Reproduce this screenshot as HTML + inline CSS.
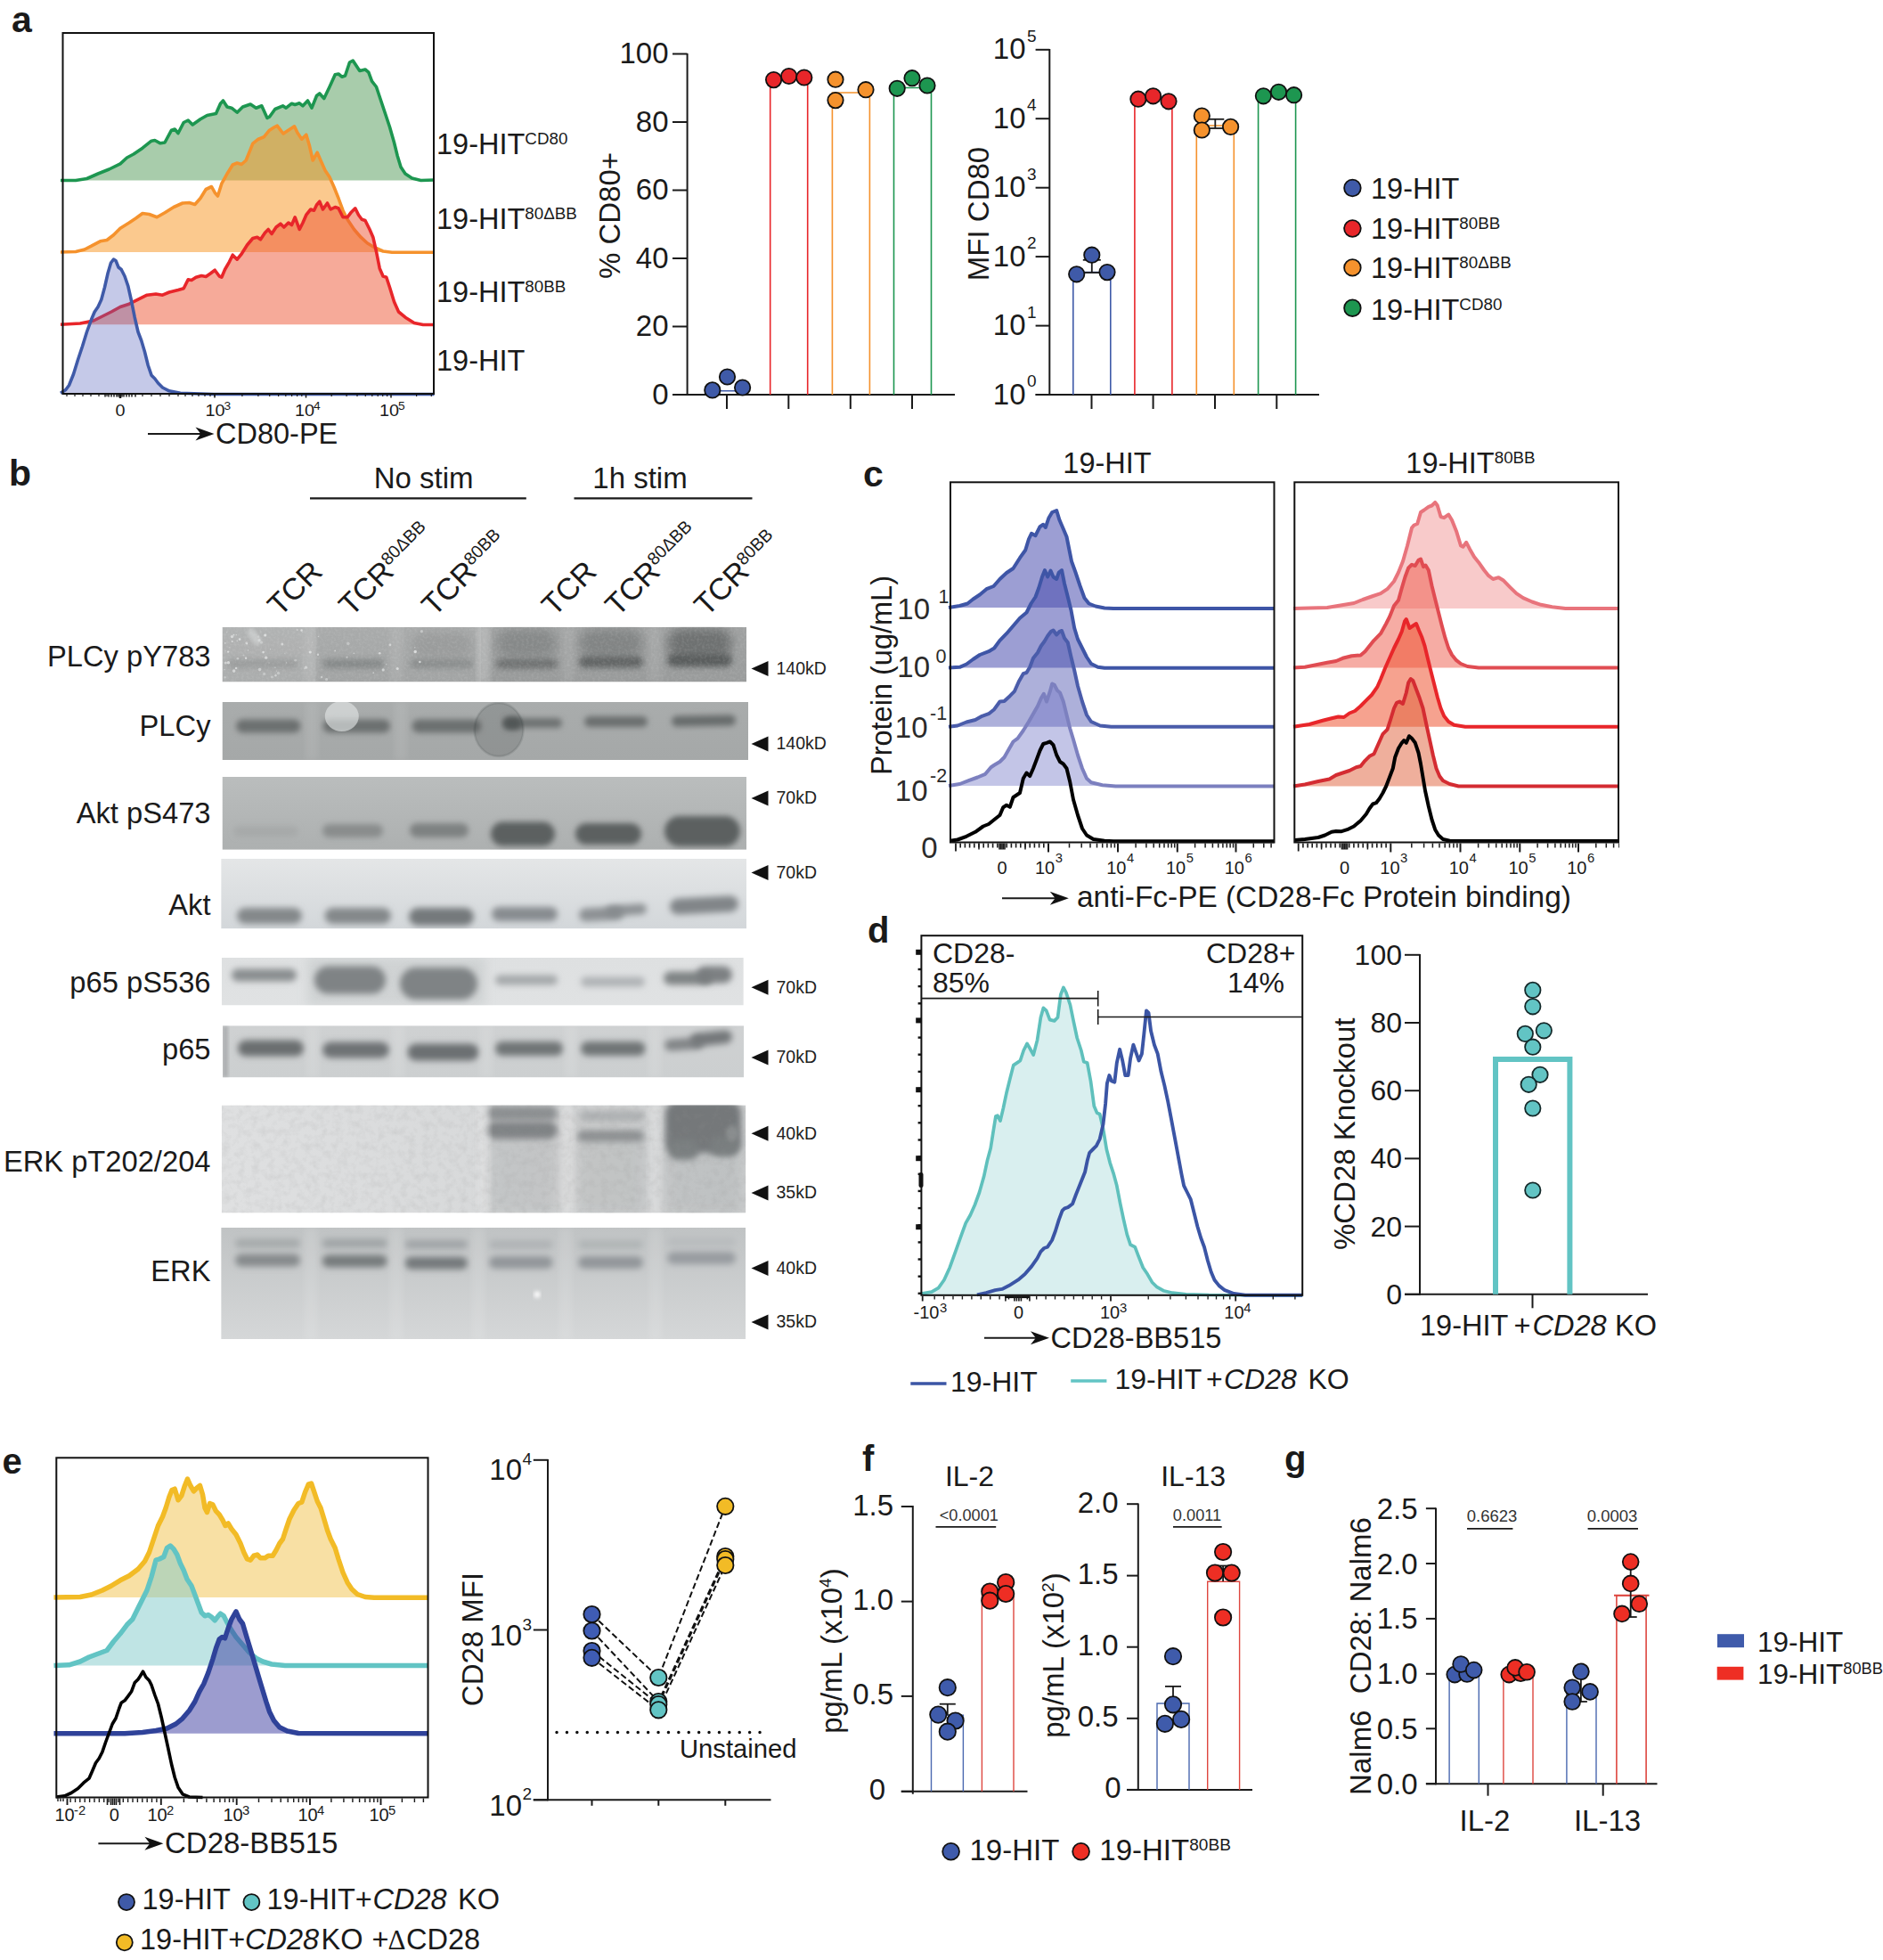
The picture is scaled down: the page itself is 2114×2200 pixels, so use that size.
<!DOCTYPE html>
<html><head><meta charset="utf-8"><title>Figure</title>
<style>html,body{margin:0;padding:0;background:#fff}body{width:2114px;height:2200px;overflow:hidden;font-family:"Liberation Sans", Arial, Helvetica, sans-serif}</style>
</head><body>
<svg width="2114" height="2200" viewBox="0 0 2114 2200" font-family='"Liberation Sans", Arial, Helvetica, sans-serif' style="display:block">
<rect x="0" y="0" width="2114" height="2200" fill="#fff" stroke="none" stroke-width="0"/>
<text x="13" y="35.5" font-size="41" font-weight="bold" fill="#1a1a1a">a</text>
<path d="M68.0,202.5 L85.0,202.5 L97.5,200.5 L110.0,195.0 L122.5,190.0 L135.0,183.8 L142.5,177.0 L150.0,173.0 L160.0,166.2 L170.0,158.2 L173.8,157.5 L180.0,160.8 L185.0,160.0 L192.5,146.2 L196.2,145.0 L200.0,149.5 L206.2,137.5 L211.2,135.0 L216.2,140.0 L225.0,133.8 L232.5,129.5 L242.5,127.5 L247.5,116.2 L250.5,113.0 L255.0,120.0 L260.0,121.2 L266.2,126.2 L272.5,120.0 L281.2,117.0 L287.5,121.2 L293.8,118.8 L300.0,132.5 L302.5,131.2 L308.8,122.5 L317.5,118.8 L321.2,121.2 L327.5,116.2 L331.2,117.5 L336.2,115.8 L340.0,118.8 L345.5,113.0 L350.0,121.2 L355.5,107.5 L358.8,105.0 L363.8,110.5 L370.0,97.5 L376.2,83.8 L380.0,83.0 L383.8,86.2 L387.5,85.0 L392.5,70.0 L396.2,68.0 L400.0,73.8 L403.8,79.5 L410.0,78.0 L413.8,81.2 L417.5,91.2 L422.5,97.5 L427.5,112.5 L432.5,127.5 L437.5,142.5 L442.5,160.0 L446.2,175.0 L450.0,187.5 L455.0,195.0 L462.5,200.0 L472.5,202.5 L487.5,202.0 L487.5,202.5 L68.0,202.5 Z" fill="#3f8f45" fill-opacity="0.45" stroke="none"/>
<path d="M68.0,202.5 L85.0,202.5 L97.5,200.5 L110.0,195.0 L122.5,190.0 L135.0,183.8 L142.5,177.0 L150.0,173.0 L160.0,166.2 L170.0,158.2 L173.8,157.5 L180.0,160.8 L185.0,160.0 L192.5,146.2 L196.2,145.0 L200.0,149.5 L206.2,137.5 L211.2,135.0 L216.2,140.0 L225.0,133.8 L232.5,129.5 L242.5,127.5 L247.5,116.2 L250.5,113.0 L255.0,120.0 L260.0,121.2 L266.2,126.2 L272.5,120.0 L281.2,117.0 L287.5,121.2 L293.8,118.8 L300.0,132.5 L302.5,131.2 L308.8,122.5 L317.5,118.8 L321.2,121.2 L327.5,116.2 L331.2,117.5 L336.2,115.8 L340.0,118.8 L345.5,113.0 L350.0,121.2 L355.5,107.5 L358.8,105.0 L363.8,110.5 L370.0,97.5 L376.2,83.8 L380.0,83.0 L383.8,86.2 L387.5,85.0 L392.5,70.0 L396.2,68.0 L400.0,73.8 L403.8,79.5 L410.0,78.0 L413.8,81.2 L417.5,91.2 L422.5,97.5 L427.5,112.5 L432.5,127.5 L437.5,142.5 L442.5,160.0 L446.2,175.0 L450.0,187.5 L455.0,195.0 L462.5,200.0 L472.5,202.5 L487.5,202.0" fill="none" stroke="#1d9650" stroke-width="3.6" stroke-linejoin="round" stroke-linecap="butt"/>
<path d="M68.0,283.0 L85.0,282.5 L95.0,280.0 L102.5,276.2 L112.5,270.8 L120.0,269.5 L127.5,263.8 L135.0,256.2 L145.0,250.0 L152.5,245.0 L160.0,239.5 L167.5,240.5 L176.2,243.8 L185.0,238.8 L195.0,232.5 L205.0,228.0 L212.5,227.5 L218.8,229.5 L225.0,222.5 L231.2,212.5 L237.5,209.5 L241.2,216.2 L244.5,220.0 L248.8,206.2 L255.0,195.0 L261.2,185.0 L266.2,183.0 L271.2,184.5 L276.2,180.0 L283.8,161.2 L290.0,156.2 L296.2,153.8 L302.5,146.2 L307.5,143.0 L311.2,141.2 L315.0,146.2 L318.0,150.0 L322.5,147.0 L327.5,143.8 L330.5,141.8 L333.8,148.8 L338.8,156.2 L343.8,151.2 L347.5,163.8 L351.2,180.0 L356.2,171.2 L360.0,180.0 L365.0,191.2 L370.0,198.8 L375.0,210.0 L380.0,222.5 L385.0,236.2 L390.0,246.2 L397.5,257.5 L405.0,266.2 L412.5,273.0 L420.0,277.5 L430.0,282.0 L440.0,283.2 L487.5,283.2 L487.5,283.0 L68.0,283.0 Z" fill="#f7941d" fill-opacity="0.5" stroke="none"/>
<path d="M68.0,283.0 L85.0,282.5 L95.0,280.0 L102.5,276.2 L112.5,270.8 L120.0,269.5 L127.5,263.8 L135.0,256.2 L145.0,250.0 L152.5,245.0 L160.0,239.5 L167.5,240.5 L176.2,243.8 L185.0,238.8 L195.0,232.5 L205.0,228.0 L212.5,227.5 L218.8,229.5 L225.0,222.5 L231.2,212.5 L237.5,209.5 L241.2,216.2 L244.5,220.0 L248.8,206.2 L255.0,195.0 L261.2,185.0 L266.2,183.0 L271.2,184.5 L276.2,180.0 L283.8,161.2 L290.0,156.2 L296.2,153.8 L302.5,146.2 L307.5,143.0 L311.2,141.2 L315.0,146.2 L318.0,150.0 L322.5,147.0 L327.5,143.8 L330.5,141.8 L333.8,148.8 L338.8,156.2 L343.8,151.2 L347.5,163.8 L351.2,180.0 L356.2,171.2 L360.0,180.0 L365.0,191.2 L370.0,198.8 L375.0,210.0 L380.0,222.5 L385.0,236.2 L390.0,246.2 L397.5,257.5 L405.0,266.2 L412.5,273.0 L420.0,277.5 L430.0,282.0 L440.0,283.2 L487.5,283.2" fill="none" stroke="#f5922d" stroke-width="3.6" stroke-linejoin="round" stroke-linecap="butt"/>
<path d="M68.0,364.2 L90.0,363.0 L105.0,360.0 L115.0,355.0 L125.0,350.0 L135.0,344.5 L145.0,341.2 L155.0,336.2 L165.0,331.2 L175.0,330.0 L182.5,331.2 L190.0,328.0 L200.0,325.5 L206.2,323.8 L211.2,313.8 L215.0,314.5 L220.0,311.2 L226.2,309.5 L231.2,310.5 L236.2,307.0 L241.2,303.2 L246.2,310.0 L248.8,311.2 L252.5,302.5 L257.5,293.8 L261.2,286.2 L266.2,291.2 L271.2,285.0 L277.5,275.0 L283.8,267.5 L288.8,266.2 L292.5,268.8 L297.5,261.2 L301.2,257.5 L305.0,262.5 L310.0,255.0 L315.0,251.2 L318.8,255.0 L323.8,250.0 L327.5,252.5 L331.2,243.8 L336.2,257.5 L340.0,250.0 L343.8,241.2 L348.8,235.0 L352.5,236.2 L355.5,230.0 L358.8,226.2 L362.5,235.0 L367.5,228.0 L371.2,235.0 L376.2,232.5 L380.0,233.8 L385.0,243.8 L390.0,243.8 L393.8,238.8 L398.8,233.8 L402.5,241.2 L406.2,246.2 L410.0,247.5 L415.0,257.5 L418.8,266.2 L422.5,282.5 L426.2,301.2 L430.0,310.0 L433.8,311.2 L437.5,322.5 L442.5,338.8 L447.5,350.0 L455.0,356.2 L465.0,362.5 L475.0,364.5 L487.5,364.5 L487.5,364.2 L68.0,364.2 Z" fill="#ee5533" fill-opacity="0.5" stroke="none"/>
<path d="M68.0,364.2 L90.0,363.0 L105.0,360.0 L115.0,355.0 L125.0,350.0 L135.0,344.5 L145.0,341.2 L155.0,336.2 L165.0,331.2 L175.0,330.0 L182.5,331.2 L190.0,328.0 L200.0,325.5 L206.2,323.8 L211.2,313.8 L215.0,314.5 L220.0,311.2 L226.2,309.5 L231.2,310.5 L236.2,307.0 L241.2,303.2 L246.2,310.0 L248.8,311.2 L252.5,302.5 L257.5,293.8 L261.2,286.2 L266.2,291.2 L271.2,285.0 L277.5,275.0 L283.8,267.5 L288.8,266.2 L292.5,268.8 L297.5,261.2 L301.2,257.5 L305.0,262.5 L310.0,255.0 L315.0,251.2 L318.8,255.0 L323.8,250.0 L327.5,252.5 L331.2,243.8 L336.2,257.5 L340.0,250.0 L343.8,241.2 L348.8,235.0 L352.5,236.2 L355.5,230.0 L358.8,226.2 L362.5,235.0 L367.5,228.0 L371.2,235.0 L376.2,232.5 L380.0,233.8 L385.0,243.8 L390.0,243.8 L393.8,238.8 L398.8,233.8 L402.5,241.2 L406.2,246.2 L410.0,247.5 L415.0,257.5 L418.8,266.2 L422.5,282.5 L426.2,301.2 L430.0,310.0 L433.8,311.2 L437.5,322.5 L442.5,338.8 L447.5,350.0 L455.0,356.2 L465.0,362.5 L475.0,364.5 L487.5,364.5" fill="none" stroke="#e8262a" stroke-width="3.6" stroke-linejoin="round" stroke-linecap="butt"/>
<path d="M68.0,441.2 L73.8,437.5 L77.5,432.5 L82.5,420.0 L87.5,403.8 L92.5,388.8 L97.5,372.5 L102.5,358.8 L106.2,350.0 L110.0,344.5 L113.8,336.2 L117.5,322.5 L121.2,306.2 L124.5,295.0 L127.5,291.2 L130.0,292.5 L133.0,300.0 L136.2,302.5 L140.0,310.0 L143.8,321.2 L147.5,337.5 L151.2,356.2 L155.0,372.5 L158.8,382.5 L162.5,395.0 L166.2,410.0 L170.0,421.2 L173.8,425.0 L177.5,430.0 L182.5,435.0 L190.0,438.8 L202.5,441.2 L240.0,442.5 L487.5,442.5 L487.5,441.2 L68.0,441.2 Z" fill="#5a64be" fill-opacity="0.35" stroke="none"/>
<path d="M68.0,441.2 L73.8,437.5 L77.5,432.5 L82.5,420.0 L87.5,403.8 L92.5,388.8 L97.5,372.5 L102.5,358.8 L106.2,350.0 L110.0,344.5 L113.8,336.2 L117.5,322.5 L121.2,306.2 L124.5,295.0 L127.5,291.2 L130.0,292.5 L133.0,300.0 L136.2,302.5 L140.0,310.0 L143.8,321.2 L147.5,337.5 L151.2,356.2 L155.0,372.5 L158.8,382.5 L162.5,395.0 L166.2,410.0 L170.0,421.2 L173.8,425.0 L177.5,430.0 L182.5,435.0 L190.0,438.8 L202.5,441.2 L240.0,442.5 L487.5,442.5" fill="none" stroke="#3f5aa8" stroke-width="3.6" stroke-linejoin="round" stroke-linecap="butt"/>
<rect x="70.5" y="37" width="416.5" height="405" fill="none" stroke="#111" stroke-width="2"/>
<clipPath id="clipA"><rect x="69" y="440" width="419" height="10"/></clipPath><g clip-path="url(#clipA)">
<line x1="75" y1="443" x2="75" y2="445" stroke="#1a1a1a" stroke-width="1.2"/>
<line x1="84" y1="443" x2="84" y2="445" stroke="#1a1a1a" stroke-width="1.2"/>
<line x1="93" y1="443" x2="93" y2="445" stroke="#1a1a1a" stroke-width="1.2"/>
<line x1="102" y1="443" x2="102" y2="445" stroke="#1a1a1a" stroke-width="1.2"/>
<line x1="111" y1="443" x2="111" y2="445" stroke="#1a1a1a" stroke-width="1.2"/>
<line x1="120" y1="443" x2="120" y2="445" stroke="#1a1a1a" stroke-width="1.2"/>
<line x1="118" y1="443" x2="118" y2="445.5" stroke="#1a1a1a" stroke-width="1.5"/>
<line x1="122" y1="443" x2="122" y2="445.5" stroke="#1a1a1a" stroke-width="1.5"/>
<line x1="125" y1="443" x2="125" y2="445.5" stroke="#1a1a1a" stroke-width="1.5"/>
<line x1="128" y1="443" x2="128" y2="445.5" stroke="#1a1a1a" stroke-width="1.5"/>
<line x1="131" y1="443" x2="131" y2="445.5" stroke="#1a1a1a" stroke-width="1.5"/>
<line x1="133" y1="443" x2="133" y2="445.5" stroke="#1a1a1a" stroke-width="1.5"/>
<line x1="135" y1="443" x2="135" y2="445.5" stroke="#1a1a1a" stroke-width="1.5"/>
<line x1="137" y1="443" x2="137" y2="445.5" stroke="#1a1a1a" stroke-width="1.5"/>
<line x1="139" y1="443" x2="139" y2="445.5" stroke="#1a1a1a" stroke-width="1.5"/>
<line x1="142" y1="443" x2="142" y2="445.5" stroke="#1a1a1a" stroke-width="1.5"/>
<line x1="145" y1="443" x2="145" y2="445.5" stroke="#1a1a1a" stroke-width="1.5"/>
<line x1="148" y1="443" x2="148" y2="445.5" stroke="#1a1a1a" stroke-width="1.5"/>
<line x1="152" y1="443" x2="152" y2="445.5" stroke="#1a1a1a" stroke-width="1.5"/>
<line x1="135" y1="443" x2="135" y2="447" stroke="#1a1a1a" stroke-width="2.5"/>
<line x1="160" y1="443" x2="160" y2="445" stroke="#1a1a1a" stroke-width="1.2"/>
<line x1="170" y1="443" x2="170" y2="445" stroke="#1a1a1a" stroke-width="1.2"/>
<line x1="180" y1="443" x2="180" y2="445" stroke="#1a1a1a" stroke-width="1.2"/>
<line x1="190" y1="443" x2="190" y2="445" stroke="#1a1a1a" stroke-width="1.2"/>
<line x1="200" y1="443" x2="200" y2="445" stroke="#1a1a1a" stroke-width="1.2"/>
<line x1="208" y1="443" x2="208" y2="445" stroke="#1a1a1a" stroke-width="1.2"/>
<line x1="216" y1="443" x2="216" y2="445" stroke="#1a1a1a" stroke-width="1.2"/>
<line x1="223" y1="443" x2="223" y2="445" stroke="#1a1a1a" stroke-width="1.2"/>
<line x1="230" y1="443" x2="230" y2="445" stroke="#1a1a1a" stroke-width="1.2"/>
<line x1="236" y1="443" x2="236" y2="445" stroke="#1a1a1a" stroke-width="1.2"/>
<line x1="241" y1="443" x2="241" y2="445" stroke="#1a1a1a" stroke-width="1.2"/>
<line x1="241" y1="443" x2="241" y2="446.5" stroke="#1a1a1a" stroke-width="1.5"/>
<line x1="271.9" y1="443" x2="271.9" y2="445" stroke="#1a1a1a" stroke-width="1.2"/>
<line x1="289.9" y1="443" x2="289.9" y2="445" stroke="#1a1a1a" stroke-width="1.2"/>
<line x1="302.7" y1="443" x2="302.7" y2="445" stroke="#1a1a1a" stroke-width="1.2"/>
<line x1="312.6" y1="443" x2="312.6" y2="445" stroke="#1a1a1a" stroke-width="1.2"/>
<line x1="320.8" y1="443" x2="320.8" y2="445" stroke="#1a1a1a" stroke-width="1.2"/>
<line x1="327.6" y1="443" x2="327.6" y2="445" stroke="#1a1a1a" stroke-width="1.2"/>
<line x1="333.6" y1="443" x2="333.6" y2="445" stroke="#1a1a1a" stroke-width="1.2"/>
<line x1="338.8" y1="443" x2="338.8" y2="445" stroke="#1a1a1a" stroke-width="1.2"/>
<line x1="343.5" y1="443" x2="343.5" y2="446.5" stroke="#1a1a1a" stroke-width="1.5"/>
<line x1="372.2" y1="443" x2="372.2" y2="445" stroke="#1a1a1a" stroke-width="1.2"/>
<line x1="389.1" y1="443" x2="389.1" y2="445" stroke="#1a1a1a" stroke-width="1.2"/>
<line x1="401.0" y1="443" x2="401.0" y2="445" stroke="#1a1a1a" stroke-width="1.2"/>
<line x1="410.3" y1="443" x2="410.3" y2="445" stroke="#1a1a1a" stroke-width="1.2"/>
<line x1="417.8" y1="443" x2="417.8" y2="445" stroke="#1a1a1a" stroke-width="1.2"/>
<line x1="424.2" y1="443" x2="424.2" y2="445" stroke="#1a1a1a" stroke-width="1.2"/>
<line x1="429.7" y1="443" x2="429.7" y2="445" stroke="#1a1a1a" stroke-width="1.2"/>
<line x1="434.6" y1="443" x2="434.6" y2="445" stroke="#1a1a1a" stroke-width="1.2"/>
<line x1="439" y1="443" x2="439" y2="446.5" stroke="#1a1a1a" stroke-width="1.5"/>
<line x1="467.6" y1="443" x2="467.6" y2="445" stroke="#1a1a1a" stroke-width="1.2"/>
<line x1="484.3" y1="443" x2="484.3" y2="445" stroke="#1a1a1a" stroke-width="1.2"/>
<line x1="496.2" y1="443" x2="496.2" y2="445" stroke="#1a1a1a" stroke-width="1.2"/>
<line x1="505.4" y1="443" x2="505.4" y2="445" stroke="#1a1a1a" stroke-width="1.2"/>
<line x1="512.9" y1="443" x2="512.9" y2="445" stroke="#1a1a1a" stroke-width="1.2"/>
<line x1="519.3" y1="443" x2="519.3" y2="445" stroke="#1a1a1a" stroke-width="1.2"/>
<line x1="524.8" y1="443" x2="524.8" y2="445" stroke="#1a1a1a" stroke-width="1.2"/>
<line x1="529.7" y1="443" x2="529.7" y2="445" stroke="#1a1a1a" stroke-width="1.2"/>
<line x1="534" y1="443" x2="534" y2="446.5" stroke="#1a1a1a" stroke-width="1.5"/>
</g>
<text transform="translate(135 466.7) scale(1.1 1)" font-size="18" text-anchor="middle" fill="#1a1a1a">0</text>
<text transform="translate(230.5 466.7) scale(1.1 1)" font-size="18" fill="#1a1a1a">10</text>
<text transform="translate(251.5 459.7) scale(1.1 1)" font-size="12.5" fill="#1a1a1a">3</text>
<text transform="translate(331 466.7) scale(1.1 1)" font-size="18" fill="#1a1a1a">10</text>
<text transform="translate(352 459.7) scale(1.1 1)" font-size="12.5" fill="#1a1a1a">4</text>
<text transform="translate(426.1 466.7) scale(1.1 1)" font-size="18" fill="#1a1a1a">10</text>
<text transform="translate(447.1 459.7) scale(1.1 1)" font-size="12.5" fill="#1a1a1a">5</text>
<line x1="166" y1="487" x2="227.9" y2="487" stroke="#1a1a1a" stroke-width="2"/>
<path d="M240.5,487 L219.5,479.5 L225.38,487 L219.5,494.5 Z" fill="#111"/>
<text x="242" y="498" font-size="32.5" fill="#1a1a1a">CD80-PE</text>
<text x="490" y="173" font-size="32.5" fill="#1a1a1a">19-HIT<tspan dy="-10.9" font-size="18.8">CD80</tspan></text>
<text x="490" y="256.5" font-size="32.5" fill="#1a1a1a">19-HIT<tspan dy="-10.9" font-size="18.8">80ΔBB</tspan></text>
<text x="490" y="339" font-size="32.5" fill="#1a1a1a">19-HIT<tspan dy="-10.9" font-size="18.8">80BB</tspan></text>
<text x="490" y="416.4" font-size="32.5" fill="#1a1a1a">19-HIT</text>
<line x1="771.6" y1="60" x2="771.6" y2="444" stroke="#1a1a1a" stroke-width="2"/>
<line x1="755" y1="443" x2="1072" y2="443" stroke="#1a1a1a" stroke-width="2"/>
<line x1="755" y1="443.0" x2="771.6" y2="443.0" stroke="#1a1a1a" stroke-width="2"/>
<text x="750.5" y="453.5" font-size="33" text-anchor="end" fill="#1a1a1a">0</text>
<line x1="755" y1="366.5" x2="771.6" y2="366.5" stroke="#1a1a1a" stroke-width="2"/>
<text x="750.5" y="377.0" font-size="33" text-anchor="end" fill="#1a1a1a">20</text>
<line x1="755" y1="290.0" x2="771.6" y2="290.0" stroke="#1a1a1a" stroke-width="2"/>
<text x="750.5" y="300.5" font-size="33" text-anchor="end" fill="#1a1a1a">40</text>
<line x1="755" y1="213.5" x2="771.6" y2="213.5" stroke="#1a1a1a" stroke-width="2"/>
<text x="750.5" y="224.0" font-size="33" text-anchor="end" fill="#1a1a1a">60</text>
<line x1="755" y1="137.0" x2="771.6" y2="137.0" stroke="#1a1a1a" stroke-width="2"/>
<text x="750.5" y="147.5" font-size="33" text-anchor="end" fill="#1a1a1a">80</text>
<line x1="755" y1="60.5" x2="771.6" y2="60.5" stroke="#1a1a1a" stroke-width="2"/>
<text x="750.5" y="71.0" font-size="33" text-anchor="end" fill="#1a1a1a">100</text>
<line x1="816" y1="443" x2="816" y2="459" stroke="#1a1a1a" stroke-width="2"/>
<line x1="885.3" y1="443" x2="885.3" y2="459" stroke="#1a1a1a" stroke-width="2"/>
<line x1="954.8" y1="443" x2="954.8" y2="459" stroke="#1a1a1a" stroke-width="2"/>
<line x1="1024" y1="443" x2="1024" y2="459" stroke="#1a1a1a" stroke-width="2"/>
<text x="696" y="242" font-size="33" text-anchor="middle" transform="rotate(-90 696 242)" fill="#1a1a1a">% CD80+</text>
<path d="M795.0,443 V438.7 H837.0 V443" fill="none" stroke="#3f5aa8" stroke-width="1.6"/>
<path d="M864.7,443 V89 H906.7 V443" fill="none" stroke="#e8262a" stroke-width="1.6"/>
<path d="M934.4,443 V104 H976.4 V443" fill="none" stroke="#f5922d" stroke-width="1.6"/>
<path d="M1003.5,443 V98.5 H1045.5 V443" fill="none" stroke="#1d9650" stroke-width="1.6"/>
<circle cx="799.8" cy="437.9" r="8.7" fill="#3f5aa8" stroke="#111" stroke-width="1.8"/>
<circle cx="816.5" cy="423" r="8.7" fill="#3f5aa8" stroke="#111" stroke-width="1.8"/>
<circle cx="833.6" cy="435" r="8.7" fill="#3f5aa8" stroke="#111" stroke-width="1.8"/>
<circle cx="868.6" cy="89.6" r="8.7" fill="#e8262a" stroke="#111" stroke-width="1.8"/>
<circle cx="885.7" cy="85.5" r="8.7" fill="#e8262a" stroke="#111" stroke-width="1.8"/>
<circle cx="902.8" cy="87" r="8.7" fill="#e8262a" stroke="#111" stroke-width="1.8"/>
<circle cx="938" cy="89.2" r="8.7" fill="#f5922d" stroke="#111" stroke-width="1.8"/>
<circle cx="938" cy="112.6" r="8.7" fill="#f5922d" stroke="#111" stroke-width="1.8"/>
<circle cx="972" cy="100.7" r="8.7" fill="#f5922d" stroke="#111" stroke-width="1.8"/>
<circle cx="1007.2" cy="99.3" r="8.7" fill="#1d9650" stroke="#111" stroke-width="1.8"/>
<circle cx="1024" cy="87.7" r="8.7" fill="#1d9650" stroke="#111" stroke-width="1.8"/>
<circle cx="1041" cy="96" r="8.7" fill="#1d9650" stroke="#111" stroke-width="1.8"/>
<line x1="1178.3" y1="55" x2="1178.3" y2="444" stroke="#1a1a1a" stroke-width="2"/>
<line x1="1162.6" y1="443" x2="1481" y2="443" stroke="#1a1a1a" stroke-width="2"/>
<line x1="1162.6" y1="443.0" x2="1178.3" y2="443.0" stroke="#1a1a1a" stroke-width="2"/>
<text x="1151.5" y="453.5" font-size="33" text-anchor="end" fill="#1a1a1a">10</text>
<text x="1153" y="434.0" font-size="19" fill="#1a1a1a">0</text>
<line x1="1162.6" y1="365.6" x2="1178.3" y2="365.6" stroke="#1a1a1a" stroke-width="2"/>
<text x="1151.5" y="376.1" font-size="33" text-anchor="end" fill="#1a1a1a">10</text>
<text x="1153" y="356.6" font-size="19" fill="#1a1a1a">1</text>
<line x1="1162.6" y1="288.1" x2="1178.3" y2="288.1" stroke="#1a1a1a" stroke-width="2"/>
<text x="1151.5" y="298.6" font-size="33" text-anchor="end" fill="#1a1a1a">10</text>
<text x="1153" y="279.1" font-size="19" fill="#1a1a1a">2</text>
<line x1="1162.6" y1="210.7" x2="1178.3" y2="210.7" stroke="#1a1a1a" stroke-width="2"/>
<text x="1151.5" y="221.2" font-size="33" text-anchor="end" fill="#1a1a1a">10</text>
<text x="1153" y="201.7" font-size="19" fill="#1a1a1a">3</text>
<line x1="1162.6" y1="133.2" x2="1178.3" y2="133.2" stroke="#1a1a1a" stroke-width="2"/>
<text x="1151.5" y="143.7" font-size="33" text-anchor="end" fill="#1a1a1a">10</text>
<text x="1153" y="124.19999999999999" font-size="19" fill="#1a1a1a">4</text>
<line x1="1162.6" y1="55.8" x2="1178.3" y2="55.8" stroke="#1a1a1a" stroke-width="2"/>
<text x="1151.5" y="66.3" font-size="33" text-anchor="end" fill="#1a1a1a">10</text>
<text x="1153" y="46.8" font-size="19" fill="#1a1a1a">5</text>
<line x1="1225.5" y1="443" x2="1225.5" y2="459" stroke="#1a1a1a" stroke-width="2"/>
<line x1="1294.6" y1="443" x2="1294.6" y2="459" stroke="#1a1a1a" stroke-width="2"/>
<line x1="1364" y1="443" x2="1364" y2="459" stroke="#1a1a1a" stroke-width="2"/>
<line x1="1433.3" y1="443" x2="1433.3" y2="459" stroke="#1a1a1a" stroke-width="2"/>
<text x="1110" y="240" font-size="33" text-anchor="middle" transform="rotate(-90 1110 240)" fill="#1a1a1a">MFI CD80</text>
<path d="M1204.8,443 V305.6 H1246.8 V443" fill="none" stroke="#3f5aa8" stroke-width="1.6"/>
<path d="M1273.9,443 V111.5 H1315.9 V443" fill="none" stroke="#e8262a" stroke-width="1.6"/>
<path d="M1343.3,443 V141 H1385.3 V443" fill="none" stroke="#f5922d" stroke-width="1.6"/>
<path d="M1412.6,443 V106 H1454.6 V443" fill="none" stroke="#1d9650" stroke-width="1.6"/>
<line x1="1225.8" y1="291.8" x2="1225.8" y2="306" stroke="#1a1a1a" stroke-width="1.8"/>
<line x1="1215.8" y1="291.8" x2="1235.8" y2="291.8" stroke="#1a1a1a" stroke-width="1.8"/>
<line x1="1215.8" y1="306" x2="1235.8" y2="306" stroke="#1a1a1a" stroke-width="1.8"/>
<line x1="1364.3" y1="133.8" x2="1364.3" y2="144" stroke="#1a1a1a" stroke-width="1.8"/>
<line x1="1354.3" y1="133.8" x2="1374.3" y2="133.8" stroke="#1a1a1a" stroke-width="1.8"/>
<line x1="1354.3" y1="144" x2="1374.3" y2="144" stroke="#1a1a1a" stroke-width="1.8"/>
<circle cx="1208.7" cy="307.8" r="8.7" fill="#3f5aa8" stroke="#111" stroke-width="1.8"/>
<circle cx="1225.8" cy="286.2" r="8.7" fill="#3f5aa8" stroke="#111" stroke-width="1.8"/>
<circle cx="1243" cy="305.6" r="8.7" fill="#3f5aa8" stroke="#111" stroke-width="1.8"/>
<circle cx="1277.9" cy="111.2" r="8.7" fill="#e8262a" stroke="#111" stroke-width="1.8"/>
<circle cx="1294.6" cy="107.8" r="8.7" fill="#e8262a" stroke="#111" stroke-width="1.8"/>
<circle cx="1312" cy="113.8" r="8.7" fill="#e8262a" stroke="#111" stroke-width="1.8"/>
<circle cx="1349.3" cy="130" r="8.7" fill="#f5922d" stroke="#111" stroke-width="1.8"/>
<circle cx="1349.3" cy="146" r="8.7" fill="#f5922d" stroke="#111" stroke-width="1.8"/>
<circle cx="1381.6" cy="142.4" r="8.7" fill="#f5922d" stroke="#111" stroke-width="1.8"/>
<circle cx="1418.4" cy="107.8" r="8.7" fill="#1d9650" stroke="#111" stroke-width="1.8"/>
<circle cx="1435.5" cy="103.3" r="8.7" fill="#1d9650" stroke="#111" stroke-width="1.8"/>
<circle cx="1452.6" cy="106.7" r="8.7" fill="#1d9650" stroke="#111" stroke-width="1.8"/>
<circle cx="1518.4" cy="211" r="9.3" fill="#3f5aa8" stroke="#111" stroke-width="1.8"/>
<text x="1539" y="222.5" font-size="32.5" fill="#1a1a1a">19-HIT</text>
<circle cx="1518.4" cy="256.5" r="9.3" fill="#e8262a" stroke="#111" stroke-width="1.8"/>
<text x="1539" y="268.0" font-size="32.5" fill="#1a1a1a">19-HIT<tspan dy="-10.9" font-size="18.8">80BB</tspan></text>
<circle cx="1518.4" cy="300.4" r="9.3" fill="#f5922d" stroke="#111" stroke-width="1.8"/>
<text x="1539" y="311.9" font-size="32.5" fill="#1a1a1a">19-HIT<tspan dy="-10.9" font-size="18.8">80ΔBB</tspan></text>
<circle cx="1518.4" cy="345.7" r="9.3" fill="#1d9650" stroke="#111" stroke-width="1.8"/>
<text x="1539" y="358.8" font-size="32.5" fill="#1a1a1a">19-HIT<tspan dy="-10.9" font-size="18.8">CD80</tspan></text>
<text x="10" y="545" font-size="41" font-weight="bold" fill="#1a1a1a">b</text>
<text x="475.6" y="547.5" font-size="33" text-anchor="middle" fill="#1a1a1a">No stim</text>
<line x1="348" y1="559.3" x2="590.8" y2="559.3" stroke="#1a1a1a" stroke-width="2.2"/>
<text x="718.5" y="547.5" font-size="33" text-anchor="middle" fill="#1a1a1a">1h stim</text>
<line x1="644.5" y1="559.3" x2="844.5" y2="559.3" stroke="#1a1a1a" stroke-width="2.2"/>
<text x="314.4" y="693" font-size="34" transform="rotate(-45 314.4 693)" fill="#1a1a1a">TCR</text>
<text x="394.4" y="693" font-size="34" transform="rotate(-45 394.4 693)" fill="#1a1a1a">TCR<tspan dy="-11.4" font-size="19.7">80ΔBB</tspan></text>
<text x="487.4" y="693" font-size="34" transform="rotate(-45 487.4 693)" fill="#1a1a1a">TCR<tspan dy="-11.4" font-size="19.7">80BB</tspan></text>
<text x="622.2" y="693" font-size="34" transform="rotate(-45 622.2 693)" fill="#1a1a1a">TCR</text>
<text x="693.4" y="693" font-size="34" transform="rotate(-45 693.4 693)" fill="#1a1a1a">TCR<tspan dy="-11.4" font-size="19.7">80ΔBB</tspan></text>
<text x="793.4" y="693" font-size="34" transform="rotate(-45 793.4 693)" fill="#1a1a1a">TCR<tspan dy="-11.4" font-size="19.7">80BB</tspan></text>
<text x="236.5" y="747.5" font-size="32.7" text-anchor="end" fill="#1a1a1a">PLCy pY783</text>
<text x="236.5" y="826" font-size="32.7" text-anchor="end" fill="#1a1a1a">PLCy</text>
<text x="236.5" y="923.8" font-size="32.7" text-anchor="end" fill="#1a1a1a">Akt pS473</text>
<text x="236.5" y="1026.5" font-size="32.7" text-anchor="end" fill="#1a1a1a">Akt</text>
<text x="236.5" y="1114.4" font-size="32.7" text-anchor="end" fill="#1a1a1a">p65 pS536</text>
<text x="236.5" y="1188.8" font-size="32.7" text-anchor="end" fill="#1a1a1a">p65</text>
<text x="236.5" y="1314.5" font-size="32.7" text-anchor="end" fill="#1a1a1a">ERK pT202/204</text>
<text x="236.5" y="1437.5" font-size="32.7" text-anchor="end" fill="#1a1a1a">ERK</text>
<path d="M843.5,750.6 L862.5,742.1 L862.5,759.1 Z" fill="#111"/>
<text x="871.5" y="756.9" font-size="19.5" fill="#222">140kD</text>
<path d="M843.5,835 L862.5,826.5 L862.5,843.5 Z" fill="#111"/>
<text x="871.5" y="841.3" font-size="19.5" fill="#222">140kD</text>
<path d="M843.5,896 L862.5,887.5 L862.5,904.5 Z" fill="#111"/>
<text x="871.5" y="902.3" font-size="19.5" fill="#222">70kD</text>
<path d="M843.5,979.5 L862.5,971.0 L862.5,988.0 Z" fill="#111"/>
<text x="871.5" y="985.8" font-size="19.5" fill="#222">70kD</text>
<path d="M843.5,1108.2 L862.5,1099.7 L862.5,1116.7 Z" fill="#111"/>
<text x="871.5" y="1114.5" font-size="19.5" fill="#222">70kD</text>
<path d="M843.5,1187 L862.5,1178.5 L862.5,1195.5 Z" fill="#111"/>
<text x="871.5" y="1193.3" font-size="19.5" fill="#222">70kD</text>
<path d="M843.5,1272.3 L862.5,1263.8 L862.5,1280.8 Z" fill="#111"/>
<text x="871.5" y="1278.6" font-size="19.5" fill="#222">40kD</text>
<path d="M843.5,1339 L862.5,1330.5 L862.5,1347.5 Z" fill="#111"/>
<text x="871.5" y="1345.3" font-size="19.5" fill="#222">35kD</text>
<path d="M843.5,1423.4 L862.5,1414.9 L862.5,1431.9 Z" fill="#111"/>
<text x="871.5" y="1429.7" font-size="19.5" fill="#222">40kD</text>
<path d="M843.5,1484 L862.5,1475.5 L862.5,1492.5 Z" fill="#111"/>
<text x="871.5" y="1490.3" font-size="19.5" fill="#222">35kD</text>
<defs><filter id="bl2" x="-20%" y="-60%" width="140%" height="220%"><feGaussianBlur stdDeviation="2.2"/></filter><filter id="bl3" x="-20%" y="-60%" width="140%" height="220%"><feGaussianBlur stdDeviation="3.2"/></filter><filter id="bl4" x="-20%" y="-80%" width="140%" height="260%"><feGaussianBlur stdDeviation="3.8"/></filter><filter id="bl6" x="-30%" y="-60%" width="160%" height="220%"><feGaussianBlur stdDeviation="6"/></filter><filter id="grain" x="0" y="0" width="100%" height="100%"><feTurbulence type="fractalNoise" baseFrequency="0.35" numOctaves="2" seed="3" result="n"/><feColorMatrix type="matrix" values="0 0 0 0 1  0 0 0 0 1  0 0 0 0 1  0.9 0 0 0 -0.35"/></filter><filter id="grainD" x="0" y="0" width="100%" height="100%"><feTurbulence type="fractalNoise" baseFrequency="0.12" numOctaves="3" seed="8" result="n"/><feColorMatrix type="matrix" values="0 0 0 0 0.3  0 0 0 0 0.3  0 0 0 0 0.3  0.9 0 0 0 -0.38"/></filter></defs>
<defs><linearGradient id="sg1" x1="0" y1="0" x2="0" y2="1"><stop offset="0" stop-color="#a9abab"/><stop offset="1" stop-color="#a2a4a4"/></linearGradient></defs>
<clipPath id="sc1"><rect x="249.5" y="703.8" width="588.5" height="61.7"/></clipPath>
<g clip-path="url(#sc1)">
<rect x="249.5" y="703.8" width="588.5" height="61.7" fill="url(#sg1)" stroke="none" stroke-width="0"/>
<rect x="249.5" y="703.8" width="105" height="62" fill="#fff" stroke="none" stroke-width="0" fill-opacity="0.10"/>
<rect x="540" y="703.8" width="300" height="62" fill="#000" stroke="none" stroke-width="0" fill-opacity="0.05"/>
<rect x="462" y="709.0" width="68" height="30" rx="15.0" fill="#8f9292" fill-opacity="0.55" filter="url(#bl6)"/>
<rect x="557" y="706.0" width="68" height="32" rx="16.0" fill="#7f8282" fill-opacity="0.75" filter="url(#bl6)"/>
<rect x="650" y="706.0" width="72" height="32" rx="16.0" fill="#7a7d7d" fill-opacity="0.8" filter="url(#bl6)"/>
<rect x="749" y="705.0" width="73" height="34" rx="17.0" fill="#6c6f6f" fill-opacity="0.95" filter="url(#bl6)"/>
<rect x="255" y="740.0" width="80" height="10" rx="5.0" fill="#8a8d8d" fill-opacity="0.55" filter="url(#bl3)"/>
<rect x="362" y="740.0" width="69" height="10" rx="5.0" fill="#7c7f7f" fill-opacity="0.8" filter="url(#bl3)"/>
<rect x="460" y="740.0" width="71" height="10" rx="5.0" fill="#7f8282" fill-opacity="0.7" filter="url(#bl3)"/>
<rect x="557" y="739.5" width="69" height="11" rx="5.5" fill="#6c6f6f" fill-opacity="0.95" filter="url(#bl3)"/>
<rect x="650" y="736.5" width="72" height="13" rx="6.5" fill="#606363" fill-opacity="1" filter="url(#bl3)"/>
<rect x="749" y="733.5" width="73" height="15" rx="7.5" fill="#5a5d5d" fill-opacity="1" filter="url(#bl3)"/>
<rect x="536.0" y="703" width="14" height="63" fill="#fff" fill-opacity="0.22" filter="url(#bl3)"/>
<rect x="341.0" y="703" width="14" height="63" fill="#fff" fill-opacity="0.08" filter="url(#bl3)"/>
<rect x="438.0" y="703" width="14" height="63" fill="#fff" fill-opacity="0.08" filter="url(#bl3)"/>
<rect x="631.0" y="703" width="14" height="63" fill="#fff" fill-opacity="0.08" filter="url(#bl3)"/>
<rect x="728.0" y="703" width="14" height="63" fill="#fff" fill-opacity="0.08" filter="url(#bl3)"/>
<circle cx="289.9" cy="714.6" r="1.3" fill="#e8eaea" fill-opacity="0.38"/>
<circle cx="336.8" cy="726.8" r="0.6" fill="#e8eaea" fill-opacity="0.58"/>
<circle cx="253.2" cy="730.7" r="0.6" fill="#e8eaea" fill-opacity="0.39"/>
<circle cx="310.4" cy="753.1" r="0.7" fill="#e8eaea" fill-opacity="0.45"/>
<circle cx="361.1" cy="760.0" r="1.3" fill="#e8eaea" fill-opacity="0.53"/>
<circle cx="473.3" cy="708.7" r="1.6" fill="#e8eaea" fill-opacity="0.48"/>
<circle cx="262.4" cy="712.7" r="0.9" fill="#e8eaea" fill-opacity="0.72"/>
<circle cx="266.9" cy="739.2" r="1.3" fill="#e8eaea" fill-opacity="0.52"/>
<circle cx="339.8" cy="709.6" r="0.6" fill="#e8eaea" fill-opacity="0.44"/>
<circle cx="376.2" cy="730.4" r="0.9" fill="#e8eaea" fill-opacity="0.61"/>
<circle cx="316.8" cy="723.1" r="1.5" fill="#e8eaea" fill-opacity="0.66"/>
<circle cx="276.1" cy="738.7" r="1.2" fill="#e8eaea" fill-opacity="0.74"/>
<circle cx="390.8" cy="722.4" r="1.8" fill="#e8eaea" fill-opacity="0.40"/>
<circle cx="309.0" cy="749.2" r="0.7" fill="#e8eaea" fill-opacity="0.57"/>
<circle cx="253.3" cy="744.1" r="1.5" fill="#e8eaea" fill-opacity="0.61"/>
<circle cx="437.9" cy="723.9" r="1.4" fill="#e8eaea" fill-opacity="0.62"/>
<circle cx="348.2" cy="732.0" r="1.6" fill="#e8eaea" fill-opacity="0.78"/>
<circle cx="321.7" cy="743.9" r="0.6" fill="#e8eaea" fill-opacity="0.67"/>
<circle cx="366.6" cy="762.6" r="1.6" fill="#e8eaea" fill-opacity="0.48"/>
<circle cx="302.1" cy="744.1" r="0.5" fill="#e8eaea" fill-opacity="0.56"/>
<circle cx="265.3" cy="712.7" r="0.6" fill="#e8eaea" fill-opacity="0.70"/>
<circle cx="260.7" cy="720.1" r="1.0" fill="#e8eaea" fill-opacity="0.74"/>
<circle cx="256.1" cy="731.6" r="1.2" fill="#e8eaea" fill-opacity="0.75"/>
<circle cx="419.2" cy="755.2" r="0.9" fill="#e8eaea" fill-opacity="0.54"/>
<circle cx="296.6" cy="756.4" r="1.7" fill="#e8eaea" fill-opacity="0.42"/>
<circle cx="266.3" cy="719.2" r="0.8" fill="#e8eaea" fill-opacity="0.57"/>
<circle cx="350.6" cy="721.0" r="0.5" fill="#e8eaea" fill-opacity="0.54"/>
<circle cx="298.7" cy="738.3" r="1.7" fill="#e8eaea" fill-opacity="0.66"/>
<circle cx="331.7" cy="741.2" r="1.4" fill="#e8eaea" fill-opacity="0.37"/>
<circle cx="446.2" cy="750.5" r="1.6" fill="#e8eaea" fill-opacity="0.71"/>
<circle cx="303.5" cy="728.7" r="0.6" fill="#e8eaea" fill-opacity="0.64"/>
<circle cx="254.7" cy="709.8" r="0.8" fill="#e8eaea" fill-opacity="0.42"/>
<circle cx="292.9" cy="709.0" r="0.5" fill="#e8eaea" fill-opacity="0.42"/>
<circle cx="257.9" cy="726.7" r="0.5" fill="#e8eaea" fill-opacity="0.74"/>
<circle cx="357.4" cy="714.5" r="0.8" fill="#e8eaea" fill-opacity="0.51"/>
<circle cx="297.7" cy="713.0" r="1.6" fill="#e8eaea" fill-opacity="0.80"/>
<circle cx="319.8" cy="733.6" r="0.6" fill="#e8eaea" fill-opacity="0.40"/>
<circle cx="293.4" cy="721.1" r="1.6" fill="#e8eaea" fill-opacity="0.42"/>
<circle cx="252.6" cy="760.2" r="1.2" fill="#e8eaea" fill-opacity="0.42"/>
<circle cx="338.6" cy="707.5" r="1.2" fill="#e8eaea" fill-opacity="0.79"/>
<circle cx="433.8" cy="745.7" r="0.8" fill="#e8eaea" fill-opacity="0.52"/>
<circle cx="265.1" cy="750.0" r="1.2" fill="#e8eaea" fill-opacity="0.70"/>
<circle cx="291.0" cy="718.7" r="1.6" fill="#e8eaea" fill-opacity="0.79"/>
<circle cx="430.2" cy="751.9" r="1.6" fill="#e8eaea" fill-opacity="0.68"/>
<circle cx="273.4" cy="735.5" r="1.0" fill="#e8eaea" fill-opacity="0.36"/>
<circle cx="252.8" cy="721.9" r="0.8" fill="#e8eaea" fill-opacity="0.66"/>
<circle cx="466.2" cy="731.5" r="1.7" fill="#e8eaea" fill-opacity="0.79"/>
<circle cx="465.7" cy="726.8" r="0.8" fill="#e8eaea" fill-opacity="0.45"/>
<circle cx="269.1" cy="717.6" r="1.3" fill="#e8eaea" fill-opacity="0.76"/>
<circle cx="426.2" cy="733.3" r="1.3" fill="#e8eaea" fill-opacity="0.71"/>
<circle cx="256.4" cy="743.7" r="1.7" fill="#e8eaea" fill-opacity="0.70"/>
<circle cx="397.2" cy="733.2" r="0.7" fill="#e8eaea" fill-opacity="0.71"/>
<circle cx="291.5" cy="751.6" r="1.8" fill="#e8eaea" fill-opacity="0.53"/>
<circle cx="305.4" cy="760.0" r="1.4" fill="#e8eaea" fill-opacity="0.43"/>
<circle cx="260.5" cy="714.6" r="1.7" fill="#e8eaea" fill-opacity="0.71"/>
<circle cx="262.6" cy="753.1" r="1.8" fill="#e8eaea" fill-opacity="0.65"/>
<circle cx="295.0" cy="737.3" r="0.7" fill="#e8eaea" fill-opacity="0.36"/>
<circle cx="471.4" cy="743.0" r="1.2" fill="#e8eaea" fill-opacity="0.77"/>
<circle cx="312.5" cy="755.7" r="1.6" fill="#e8eaea" fill-opacity="0.44"/>
<circle cx="277.3" cy="722.7" r="0.8" fill="#e8eaea" fill-opacity="0.61"/>
<circle cx="278.5" cy="729.9" r="0.7" fill="#e8eaea" fill-opacity="0.76"/>
<circle cx="295.6" cy="732.1" r="1.3" fill="#e8eaea" fill-opacity="0.76"/>
<circle cx="309.5" cy="758.3" r="1.2" fill="#e8eaea" fill-opacity="0.59"/>
<circle cx="333.7" cy="707.1" r="1.1" fill="#e8eaea" fill-opacity="0.43"/>
<circle cx="252.0" cy="751.6" r="0.7" fill="#e8eaea" fill-opacity="0.56"/>
<circle cx="389.5" cy="737.7" r="0.9" fill="#e8eaea" fill-opacity="0.58"/>
<circle cx="341.8" cy="750.7" r="0.6" fill="#e8eaea" fill-opacity="0.60"/>
<circle cx="276.8" cy="721.8" r="1.5" fill="#e8eaea" fill-opacity="0.58"/>
<circle cx="343.4" cy="749.3" r="1.7" fill="#e8eaea" fill-opacity="0.55"/>
<circle cx="357.0" cy="734.8" r="1.2" fill="#e8eaea" fill-opacity="0.66"/>
<rect x="281" y="705" width="9" height="20" rx="4" transform="rotate(-35 285 715)" fill="#d2d4d4" fill-opacity="0.7" filter="url(#bl2)"/>
<rect x="249.5" y="703.8" width="588.5" height="62" filter="url(#grain)" opacity="0.25"/>
</g>
<defs><linearGradient id="sg2" x1="0" y1="0" x2="0" y2="1"><stop offset="0" stop-color="#a9acac"/><stop offset="1" stop-color="#a5a8a8"/></linearGradient></defs>
<clipPath id="sc2"><rect x="249.5" y="788" width="590.5" height="65"/></clipPath>
<g clip-path="url(#sc2)">
<rect x="249.5" y="788" width="590.5" height="65" fill="url(#sg2)" stroke="none" stroke-width="0"/>
<rect x="265" y="807.5" width="72.5" height="15" rx="7.5" fill="#6c7070" fill-opacity="1" filter="url(#bl3)"/>
<rect x="362.5" y="807.5" width="75.5" height="15" rx="7.5" fill="#6c7070" fill-opacity="1" filter="url(#bl3)"/>
<rect x="462.5" y="807.5" width="77.5" height="15" rx="7.5" fill="#6c7070" fill-opacity="1" filter="url(#bl3)"/>
<rect x="565" y="806.0" width="66" height="11" rx="5.5" fill="#6e7272" fill-opacity="1" filter="url(#bl3)"/>
<rect x="565" y="805.0" width="20" height="14" rx="7.0" fill="#5a5e5e" fill-opacity="1" filter="url(#bl3)"/>
<rect x="656" y="804.0" width="71" height="12" rx="6.0" fill="#6a6e6e" fill-opacity="1" filter="url(#bl3)"/>
<rect x="754" y="803.0" width="72" height="12" rx="6.0" fill="#686c6c" fill-opacity="1" filter="url(#bl3)" transform="rotate(-1 790.0 809)"/>
<rect x="343.0" y="788" width="14" height="65" fill="#fff" fill-opacity="0.08" filter="url(#bl3)"/>
<rect x="443.0" y="788" width="14" height="65" fill="#fff" fill-opacity="0.08" filter="url(#bl3)"/>
<ellipse cx="560" cy="819" rx="27.5" ry="30" fill="#2c3030" fill-opacity="0.17" stroke="#2c3030" stroke-opacity="0.12" stroke-width="2.5"/>
<ellipse cx="383.8" cy="804" rx="19" ry="17" fill="#e4e7e7" fill-opacity="0.62"/>
</g>
<defs><linearGradient id="sg3" x1="0" y1="0" x2="0" y2="1"><stop offset="0" stop-color="#babdbd"/><stop offset="1" stop-color="#adb0b0"/></linearGradient></defs>
<clipPath id="sc3"><rect x="249.5" y="872" width="588.5" height="81.8"/></clipPath>
<g clip-path="url(#sc3)">
<rect x="249.5" y="872" width="588.5" height="81.8" fill="url(#sg3)" stroke="none" stroke-width="0"/>
<rect x="262" y="927.0" width="73" height="12" rx="6.0" fill="#a0a3a3" fill-opacity="0.6" filter="url(#bl3)"/>
<rect x="362" y="925.0" width="68" height="15" rx="7.5" fill="#858888" fill-opacity="0.9" filter="url(#bl3)"/>
<rect x="460" y="924.0" width="66" height="16" rx="8.0" fill="#7b7e7e" fill-opacity="0.95" filter="url(#bl3)"/>
<rect x="551" y="922.5" width="72" height="27" rx="13.5" fill="#5c6060" fill-opacity="1" filter="url(#bl3)"/>
<rect x="646" y="924.0" width="74" height="24" rx="12.0" fill="#5c6060" fill-opacity="1" filter="url(#bl3)"/>
<rect x="746" y="916.0" width="85" height="34" rx="17.0" fill="#5c6060" fill-opacity="1" filter="url(#bl3)"/>
</g>
<defs><linearGradient id="sg4" x1="0" y1="0" x2="0" y2="1"><stop offset="0" stop-color="#e4e6e7"/><stop offset="1" stop-color="#d3d7da"/></linearGradient></defs>
<clipPath id="sc4"><rect x="248.2" y="963.8" width="589.8" height="78.6"/></clipPath>
<g clip-path="url(#sc4)">
<rect x="248.2" y="963.8" width="589.8" height="78.6" fill="url(#sg4)" stroke="none" stroke-width="0"/>
<rect x="266" y="1019.0" width="73" height="18" rx="9.0" fill="#7f8487" fill-opacity="0.95" filter="url(#bl4)"/>
<rect x="364.5" y="1019.0" width="74.5" height="18" rx="9.0" fill="#7f8487" fill-opacity="0.95" filter="url(#bl4)"/>
<rect x="459" y="1019.0" width="73" height="20" rx="10.0" fill="#74797c" fill-opacity="1" filter="url(#bl4)"/>
<rect x="552" y="1018.0" width="74" height="16" rx="8.0" fill="#83888b" fill-opacity="0.95" filter="url(#bl4)"/>
<rect x="650" y="1018.5" width="50" height="15" rx="7.5" fill="#858a8d" fill-opacity="0.9" filter="url(#bl4)" transform="rotate(-3 675.0 1026)"/>
<rect x="680" y="1015.5" width="46" height="12" rx="6.0" fill="#858a8d" fill-opacity="0.9" filter="url(#bl4)" transform="rotate(-4 703.0 1021.5)"/>
<rect x="752" y="1007.0" width="77" height="18" rx="9.0" fill="#7c8184" fill-opacity="0.95" filter="url(#bl4)" transform="rotate(-3 790.5 1016)"/>
</g>
<defs><linearGradient id="sg5" x1="0" y1="0" x2="0" y2="1"><stop offset="0" stop-color="#dee0e1"/><stop offset="1" stop-color="#e0e2e3"/></linearGradient></defs>
<clipPath id="sc5"><rect x="248.8" y="1075" width="586" height="53.5"/></clipPath>
<g clip-path="url(#sc5)">
<rect x="248.8" y="1075" width="586" height="53.5" fill="url(#sg5)" stroke="none" stroke-width="0"/>
<rect x="345" y="1075" width="200" height="54" fill="#9a9ea0" stroke="none" stroke-width="0" fill-opacity="0.22" filter="url(#bl6)"/>
<rect x="260" y="1087.5" width="73" height="14" rx="7.0" fill="#85898b" fill-opacity="0.95" filter="url(#bl4)"/>
<rect x="353" y="1084.5" width="80" height="31" rx="15.5" fill="#7f8385" fill-opacity="1" filter="url(#bl4)"/>
<rect x="449" y="1086.0" width="87" height="36" rx="18.0" fill="#7f8385" fill-opacity="1" filter="url(#bl4)"/>
<rect x="556" y="1094.5" width="70" height="11" rx="5.5" fill="#9a9ea0" fill-opacity="0.85" filter="url(#bl4)"/>
<rect x="652" y="1096.5" width="72" height="11" rx="5.5" fill="#a4a8aa" fill-opacity="0.8" filter="url(#bl4)"/>
<rect x="745" y="1090.5" width="55" height="15" rx="7.5" fill="#7a7e80" fill-opacity="0.95" filter="url(#bl4)"/>
<rect x="782" y="1084.5" width="40" height="19" rx="9.5" fill="#777b7d" fill-opacity="0.95" filter="url(#bl4)"/>
</g>
<defs><linearGradient id="sg6" x1="0" y1="0" x2="0" y2="1"><stop offset="0" stop-color="#cfd1d2"/><stop offset="1" stop-color="#cccfd0"/></linearGradient></defs>
<clipPath id="sc6"><rect x="250" y="1151.2" width="585" height="58.2"/></clipPath>
<g clip-path="url(#sc6)">
<rect x="250" y="1151.2" width="585" height="58.2" fill="url(#sg6)" stroke="none" stroke-width="0"/>
<rect x="267" y="1167.6" width="74" height="18" rx="9.0" fill="#6a6e70" fill-opacity="1" filter="url(#bl4)"/>
<rect x="362" y="1169.5" width="75" height="18" rx="9.0" fill="#6e7274" fill-opacity="1" filter="url(#bl4)"/>
<rect x="457.5" y="1171.5" width="80.0" height="19" rx="9.5" fill="#6c7072" fill-opacity="1" filter="url(#bl4)"/>
<rect x="556" y="1169.0" width="76" height="16" rx="8.0" fill="#707476" fill-opacity="1" filter="url(#bl4)"/>
<rect x="652" y="1169.0" width="72.5" height="16" rx="8.0" fill="#707476" fill-opacity="1" filter="url(#bl4)"/>
<rect x="746" y="1165.5" width="44" height="13" rx="6.5" fill="#7d8183" fill-opacity="0.95" filter="url(#bl4)" transform="rotate(-4 768.0 1172)"/>
<rect x="775" y="1158.0" width="47" height="15" rx="7.5" fill="#74787a" fill-opacity="1" filter="url(#bl4)" transform="rotate(-6 798.5 1165.5)"/>
<rect x="344.0" y="1151" width="14" height="59" fill="#fff" fill-opacity="0.1" filter="url(#bl3)"/>
<rect x="440.0" y="1151" width="14" height="59" fill="#fff" fill-opacity="0.1" filter="url(#bl3)"/>
<rect x="539.0" y="1151" width="14" height="59" fill="#fff" fill-opacity="0.1" filter="url(#bl3)"/>
<rect x="634.0" y="1151" width="14" height="59" fill="#fff" fill-opacity="0.1" filter="url(#bl3)"/>
<rect x="728.0" y="1151" width="14" height="59" fill="#fff" fill-opacity="0.1" filter="url(#bl3)"/>
<rect x="250" y="1151.2" width="6" height="58.2" fill="#8a8c8d" stroke="none" stroke-width="0" fill-opacity="0.5" filter="url(#bl2)"/>
</g>
<defs><linearGradient id="sg7" x1="0" y1="0" x2="1" y2="0"><stop offset="0" stop-color="#dfe0e1"/><stop offset="1" stop-color="#d0d2d3"/></linearGradient></defs>
<clipPath id="sc7"><rect x="248.8" y="1240.5" width="588.5" height="121"/></clipPath>
<g clip-path="url(#sc7)">
<rect x="248.8" y="1240.5" width="588.5" height="121" fill="url(#sg7)" stroke="none" stroke-width="0"/>
<rect x="540" y="1240" width="300" height="122" fill="#9a9c9e" stroke="none" stroke-width="0" fill-opacity="0.13" filter="url(#bl6)"/>
<rect x="548" y="1275" width="76" height="90" fill="#8a8c8e" stroke="none" stroke-width="0" fill-opacity="0.16" filter="url(#bl6)"/>
<rect x="650" y="1275" width="73" height="90" fill="#8a8c8e" stroke="none" stroke-width="0" fill-opacity="0.16" filter="url(#bl6)"/>
<rect x="748" y="1275" width="84" height="90" fill="#8a8c8e" stroke="none" stroke-width="0" fill-opacity="0.16" filter="url(#bl6)"/>
<rect x="546" y="1241.0" width="80" height="17" rx="8.5" fill="#868a8c" fill-opacity="0.9" filter="url(#bl4)"/>
<rect x="546" y="1258.5" width="80" height="20" rx="10.0" fill="#7c8082" fill-opacity="0.95" filter="url(#bl4)"/>
<rect x="650" y="1247.0" width="73" height="12" rx="6.0" fill="#a6a9ab" fill-opacity="0.8" filter="url(#bl4)"/>
<rect x="648" y="1268.5" width="75" height="13" rx="6.5" fill="#8a8d8f" fill-opacity="0.95" filter="url(#bl4)"/>
<rect x="747" y="1236" width="85" height="58" rx="14" fill="#74787a" filter="url(#bl4)"/>
<rect x="750" y="1278" width="34" height="24" rx="10" fill="#7a7e80" fill-opacity="0.95" filter="url(#bl4)"/>
<rect x="797" y="1276" width="33" height="22" rx="10" fill="#7a7e80" fill-opacity="0.95" filter="url(#bl4)"/>
<ellipse cx="822" cy="1272" rx="7" ry="9" fill="#8e9294" fill-opacity="0.8" filter="url(#bl2)"/>
<rect x="536.0" y="1240" width="14" height="122" fill="#fff" fill-opacity="0.25" filter="url(#bl3)"/>
<rect x="630.0" y="1240" width="14" height="122" fill="#fff" fill-opacity="0.25" filter="url(#bl3)"/>
<rect x="728.0" y="1240" width="14" height="122" fill="#fff" fill-opacity="0.25" filter="url(#bl3)"/>
<rect x="248.8" y="1240.5" width="588.5" height="121" filter="url(#grainD)" opacity="0.35"/>
</g>
<defs><linearGradient id="sg8" x1="0" y1="0" x2="0" y2="1"><stop offset="0" stop-color="#c0c3c4"/><stop offset="1" stop-color="#d5d7d8"/></linearGradient></defs>
<clipPath id="sc8"><rect x="248.2" y="1378" width="589" height="125"/></clipPath>
<g clip-path="url(#sc8)">
<rect x="248.2" y="1378" width="589" height="125" fill="url(#sg8)" stroke="none" stroke-width="0"/>
<rect x="264" y="1390.6" width="73" height="10" rx="5.0" fill="#a0a4a6" fill-opacity="0.85" filter="url(#bl4)"/>
<rect x="264" y="1407.6" width="73" height="14" rx="7.0" fill="#868a8c" fill-opacity="1" filter="url(#bl4)"/>
<rect x="361.7" y="1390.6" width="73.0" height="10" rx="5.0" fill="#999da0" fill-opacity="0.85" filter="url(#bl4)"/>
<rect x="361.7" y="1408.5" width="73.0" height="14" rx="7.0" fill="#777b7d" fill-opacity="1" filter="url(#bl4)"/>
<rect x="454.7" y="1391.7" width="70.3" height="10" rx="5.0" fill="#9a9ea1" fill-opacity="0.85" filter="url(#bl4)"/>
<rect x="454.7" y="1410.8" width="70.3" height="14" rx="7.0" fill="#75797b" fill-opacity="1" filter="url(#bl4)"/>
<rect x="549" y="1392.0" width="71.6" height="10" rx="5.0" fill="#abafb1" fill-opacity="0.85" filter="url(#bl4)"/>
<rect x="549" y="1410.0" width="71.6" height="14" rx="7.0" fill="#92969a" fill-opacity="1" filter="url(#bl4)"/>
<rect x="649" y="1392.0" width="73" height="10" rx="5.0" fill="#adb1b3" fill-opacity="0.85" filter="url(#bl4)"/>
<rect x="649" y="1410.0" width="73" height="14" rx="7.0" fill="#92969a" fill-opacity="1" filter="url(#bl4)"/>
<rect x="749" y="1389.0" width="77" height="10" rx="5.0" fill="#b6babc" fill-opacity="0.85" filter="url(#bl4)"/>
<rect x="749" y="1405.0" width="77" height="14" rx="7.0" fill="#989ca0" fill-opacity="1" filter="url(#bl4)"/>
<rect x="342.0" y="1378" width="14" height="126" fill="#fff" fill-opacity="0.1" filter="url(#bl3)"/>
<rect x="438.0" y="1378" width="14" height="126" fill="#fff" fill-opacity="0.1" filter="url(#bl3)"/>
<rect x="530.0" y="1378" width="14" height="126" fill="#fff" fill-opacity="0.1" filter="url(#bl3)"/>
<rect x="628.0" y="1378" width="14" height="126" fill="#fff" fill-opacity="0.1" filter="url(#bl3)"/>
<rect x="729.0" y="1378" width="14" height="126" fill="#fff" fill-opacity="0.1" filter="url(#bl3)"/>
<circle cx="603" cy="1453" r="3.5" fill="#fff" filter="url(#bl2)"/>
</g>
<text x="969" y="546" font-size="41" font-weight="bold" fill="#1a1a1a">c</text>
<text x="1243" y="530.5" font-size="32.5" text-anchor="middle" fill="#1a1a1a">19-HIT</text>
<text x="1651" y="530.5" font-size="32.5" text-anchor="middle" fill="#1a1a1a">19-HIT<tspan dy="-10.9" font-size="18.8">80BB</tspan></text>
<path d="M1065.0,682.0 L1077.5,680.0 L1086.2,677.5 L1092.5,672.5 L1100.0,667.5 L1107.5,661.2 L1115.5,658.0 L1122.5,650.0 L1130.0,643.0 L1137.5,638.0 L1145.0,626.2 L1151.2,617.5 L1155.0,605.0 L1158.0,598.8 L1162.5,601.2 L1167.5,591.2 L1171.2,588.8 L1173.8,592.0 L1177.5,581.2 L1181.2,575.0 L1186.2,573.0 L1189.5,583.8 L1193.8,593.8 L1197.5,602.5 L1200.0,615.0 L1203.0,630.0 L1207.5,642.5 L1212.5,657.5 L1217.5,671.2 L1222.5,677.5 L1230.0,680.5 L1240.0,682.5 L1250.0,683.0 L1430.5,683.0 L1430.5,682.0 L1065.0,682.0 Z" fill="#4a4fae" fill-opacity="0.55" stroke="none"/>
<path d="M1065.0,682.0 L1077.5,680.0 L1086.2,677.5 L1092.5,672.5 L1100.0,667.5 L1107.5,661.2 L1115.5,658.0 L1122.5,650.0 L1130.0,643.0 L1137.5,638.0 L1145.0,626.2 L1151.2,617.5 L1155.0,605.0 L1158.0,598.8 L1162.5,601.2 L1167.5,591.2 L1171.2,588.8 L1173.8,592.0 L1177.5,581.2 L1181.2,575.0 L1186.2,573.0 L1189.5,583.8 L1193.8,593.8 L1197.5,602.5 L1200.0,615.0 L1203.0,630.0 L1207.5,642.5 L1212.5,657.5 L1217.5,671.2 L1222.5,677.5 L1230.0,680.5 L1240.0,682.5 L1250.0,683.0 L1430.5,683.0" fill="none" stroke="#3e55a6" stroke-width="4" stroke-linejoin="round" stroke-linecap="butt"/>
<path d="M1065.0,749.5 L1077.5,748.8 L1085.0,745.5 L1092.5,740.0 L1100.0,735.0 L1110.0,731.2 L1116.2,727.5 L1122.5,718.8 L1130.0,711.2 L1137.5,702.5 L1145.0,693.8 L1152.5,687.5 L1157.5,677.5 L1162.5,670.0 L1166.2,660.0 L1170.0,647.5 L1173.0,640.0 L1176.2,647.5 L1179.5,640.5 L1182.5,647.5 L1186.2,650.0 L1188.8,642.5 L1192.0,640.0 L1195.0,655.0 L1198.8,670.0 L1202.5,685.0 L1206.2,705.0 L1210.0,717.5 L1215.0,727.5 L1220.0,737.5 L1225.0,745.0 L1232.5,748.8 L1240.0,749.8 L1430.5,749.8 L1430.5,749.5 L1065.0,749.5 Z" fill="#4a4fae" fill-opacity="0.55" stroke="none"/>
<path d="M1065.0,749.5 L1077.5,748.8 L1085.0,745.5 L1092.5,740.0 L1100.0,735.0 L1110.0,731.2 L1116.2,727.5 L1122.5,718.8 L1130.0,711.2 L1137.5,702.5 L1145.0,693.8 L1152.5,687.5 L1157.5,677.5 L1162.5,670.0 L1166.2,660.0 L1170.0,647.5 L1173.0,640.0 L1176.2,647.5 L1179.5,640.5 L1182.5,647.5 L1186.2,650.0 L1188.8,642.5 L1192.0,640.0 L1195.0,655.0 L1198.8,670.0 L1202.5,685.0 L1206.2,705.0 L1210.0,717.5 L1215.0,727.5 L1220.0,737.5 L1225.0,745.0 L1232.5,748.8 L1240.0,749.8 L1430.5,749.8" fill="none" stroke="#3e55a6" stroke-width="4" stroke-linejoin="round" stroke-linecap="butt"/>
<path d="M1065.0,815.8 L1075.0,814.5 L1085.0,810.5 L1095.0,808.0 L1102.5,803.8 L1110.0,801.2 L1116.2,796.2 L1122.5,787.5 L1127.5,787.0 L1133.8,781.2 L1138.8,776.2 L1143.8,765.0 L1148.8,756.2 L1152.5,755.0 L1156.2,748.8 L1160.0,738.8 L1165.0,732.5 L1168.8,725.0 L1172.5,720.0 L1176.2,713.8 L1180.0,708.8 L1182.5,707.5 L1186.2,712.5 L1189.5,708.8 L1192.0,708.0 L1195.0,716.2 L1198.8,721.2 L1202.5,737.5 L1206.2,752.5 L1210.0,770.0 L1215.0,787.5 L1220.0,802.5 L1225.0,810.0 L1235.0,814.5 L1247.5,815.8 L1430.5,815.8 L1430.5,815.8 L1065.0,815.8 Z" fill="#4a4fae" fill-opacity="0.45" stroke="none"/>
<path d="M1065.0,815.8 L1075.0,814.5 L1085.0,810.5 L1095.0,808.0 L1102.5,803.8 L1110.0,801.2 L1116.2,796.2 L1122.5,787.5 L1127.5,787.0 L1133.8,781.2 L1138.8,776.2 L1143.8,765.0 L1148.8,756.2 L1152.5,755.0 L1156.2,748.8 L1160.0,738.8 L1165.0,732.5 L1168.8,725.0 L1172.5,720.0 L1176.2,713.8 L1180.0,708.8 L1182.5,707.5 L1186.2,712.5 L1189.5,708.8 L1192.0,708.0 L1195.0,716.2 L1198.8,721.2 L1202.5,737.5 L1206.2,752.5 L1210.0,770.0 L1215.0,787.5 L1220.0,802.5 L1225.0,810.0 L1235.0,814.5 L1247.5,815.8 L1430.5,815.8" fill="none" stroke="#4a5caa" stroke-width="4" stroke-linejoin="round" stroke-linecap="butt"/>
<path d="M1065.0,882.0 L1077.5,880.0 L1087.5,876.2 L1097.5,872.5 L1106.2,868.8 L1112.5,861.2 L1116.2,858.8 L1122.5,855.0 L1127.5,850.0 L1132.5,841.2 L1137.5,832.5 L1142.5,828.8 L1148.8,820.0 L1155.0,810.0 L1160.0,801.2 L1165.0,792.5 L1168.8,783.8 L1171.8,778.8 L1175.0,787.5 L1178.8,776.2 L1181.2,767.5 L1183.8,768.8 L1187.0,775.0 L1190.0,777.5 L1193.8,787.5 L1197.5,802.5 L1201.2,817.5 L1205.0,830.0 L1210.0,847.5 L1215.0,862.5 L1220.0,873.8 L1225.0,878.2 L1237.5,881.2 L1252.5,882.5 L1430.5,882.5 L1430.5,882.0 L1065.0,882.0 Z" fill="#6a6ec2" fill-opacity="0.4" stroke="none"/>
<path d="M1065.0,882.0 L1077.5,880.0 L1087.5,876.2 L1097.5,872.5 L1106.2,868.8 L1112.5,861.2 L1116.2,858.8 L1122.5,855.0 L1127.5,850.0 L1132.5,841.2 L1137.5,832.5 L1142.5,828.8 L1148.8,820.0 L1155.0,810.0 L1160.0,801.2 L1165.0,792.5 L1168.8,783.8 L1171.8,778.8 L1175.0,787.5 L1178.8,776.2 L1181.2,767.5 L1183.8,768.8 L1187.0,775.0 L1190.0,777.5 L1193.8,787.5 L1197.5,802.5 L1201.2,817.5 L1205.0,830.0 L1210.0,847.5 L1215.0,862.5 L1220.0,873.8 L1225.0,878.2 L1237.5,881.2 L1252.5,882.5 L1430.5,882.5" fill="none" stroke="#7c80bf" stroke-width="4" stroke-linejoin="round" stroke-linecap="butt"/>
<path d="M1067.0,943.8 L1075.0,942.5 L1085.0,938.8 L1095.0,933.8 L1103.8,927.5 L1110.0,925.0 L1116.2,920.0 L1122.5,915.0 L1126.2,906.2 L1130.0,903.8 L1133.8,905.8 L1137.5,895.0 L1141.2,892.5 L1145.0,890.0 L1148.8,873.8 L1152.5,867.5 L1156.2,871.2 L1160.0,862.5 L1163.8,852.5 L1167.5,842.5 L1171.2,835.0 L1175.0,833.8 L1178.8,832.5 L1182.5,836.2 L1186.2,847.5 L1190.0,855.0 L1193.8,857.5 L1197.5,862.5 L1201.2,877.5 L1205.0,897.5 L1210.0,915.0 L1215.0,930.0 L1220.0,937.5 L1227.5,942.0 L1240.0,943.8 L1250.0,944.2 L1430.5,944.2" fill="none" stroke="#000" stroke-width="4" stroke-linejoin="round" stroke-linecap="butt"/>
<rect x="1067" y="541.3" width="363.5" height="404.2" fill="none" stroke="#111" stroke-width="2"/>
<path d="M1452.0,683.0 L1470.0,682.5 L1490.0,682.0 L1505.0,679.5 L1520.0,677.0 L1530.0,673.0 L1540.0,669.5 L1550.0,666.2 L1557.5,661.2 L1565.0,652.5 L1570.0,642.5 L1575.0,630.0 L1580.0,612.5 L1585.0,592.5 L1587.5,589.5 L1591.2,588.0 L1595.0,575.0 L1598.8,572.5 L1603.8,568.8 L1607.5,567.5 L1611.2,563.8 L1613.8,567.5 L1617.5,580.0 L1621.2,581.2 L1626.2,577.5 L1630.0,583.8 L1635.0,596.2 L1640.0,612.5 L1642.5,613.8 L1646.2,608.8 L1650.0,616.2 L1655.0,625.0 L1660.0,631.2 L1666.2,640.0 L1671.2,646.2 L1676.2,650.0 L1682.5,648.2 L1687.5,651.2 L1695.0,658.8 L1702.5,666.2 L1710.0,671.2 L1720.0,675.5 L1730.0,678.8 L1742.5,681.2 L1757.5,683.0 L1817.0,683.0 L1817.0,683.0 L1452.0,683.0 Z" fill="#f08a8a" fill-opacity="0.45" stroke="none"/>
<path d="M1452.0,683.0 L1470.0,682.5 L1490.0,682.0 L1505.0,679.5 L1520.0,677.0 L1530.0,673.0 L1540.0,669.5 L1550.0,666.2 L1557.5,661.2 L1565.0,652.5 L1570.0,642.5 L1575.0,630.0 L1580.0,612.5 L1585.0,592.5 L1587.5,589.5 L1591.2,588.0 L1595.0,575.0 L1598.8,572.5 L1603.8,568.8 L1607.5,567.5 L1611.2,563.8 L1613.8,567.5 L1617.5,580.0 L1621.2,581.2 L1626.2,577.5 L1630.0,583.8 L1635.0,596.2 L1640.0,612.5 L1642.5,613.8 L1646.2,608.8 L1650.0,616.2 L1655.0,625.0 L1660.0,631.2 L1666.2,640.0 L1671.2,646.2 L1676.2,650.0 L1682.5,648.2 L1687.5,651.2 L1695.0,658.8 L1702.5,666.2 L1710.0,671.2 L1720.0,675.5 L1730.0,678.8 L1742.5,681.2 L1757.5,683.0 L1817.0,683.0" fill="none" stroke="#e8747c" stroke-width="4" stroke-linejoin="round" stroke-linecap="butt"/>
<path d="M1452.0,749.5 L1465.0,748.8 L1477.5,746.2 L1490.0,743.8 L1500.0,742.0 L1507.5,738.8 L1517.5,736.2 L1527.5,735.5 L1532.5,731.2 L1537.5,725.0 L1542.5,718.8 L1550.0,711.2 L1556.2,700.0 L1560.0,692.5 L1565.0,680.0 L1570.0,673.8 L1573.8,660.0 L1577.5,647.5 L1581.2,637.5 L1585.0,633.8 L1588.8,635.0 L1592.5,628.8 L1595.0,627.5 L1598.0,636.2 L1600.5,634.5 L1603.8,640.0 L1607.5,657.5 L1611.2,672.5 L1615.0,687.5 L1618.8,702.5 L1622.5,716.2 L1626.2,727.5 L1630.0,735.0 L1635.0,741.2 L1640.0,745.0 L1647.5,748.0 L1660.0,749.5 L1817.0,749.5 L1817.0,749.5 L1452.0,749.5 Z" fill="#ee5a4a" fill-opacity="0.5" stroke="none"/>
<path d="M1452.0,749.5 L1465.0,748.8 L1477.5,746.2 L1490.0,743.8 L1500.0,742.0 L1507.5,738.8 L1517.5,736.2 L1527.5,735.5 L1532.5,731.2 L1537.5,725.0 L1542.5,718.8 L1550.0,711.2 L1556.2,700.0 L1560.0,692.5 L1565.0,680.0 L1570.0,673.8 L1573.8,660.0 L1577.5,647.5 L1581.2,637.5 L1585.0,633.8 L1588.8,635.0 L1592.5,628.8 L1595.0,627.5 L1598.0,636.2 L1600.5,634.5 L1603.8,640.0 L1607.5,657.5 L1611.2,672.5 L1615.0,687.5 L1618.8,702.5 L1622.5,716.2 L1626.2,727.5 L1630.0,735.0 L1635.0,741.2 L1640.0,745.0 L1647.5,748.0 L1660.0,749.5 L1817.0,749.5" fill="none" stroke="#e04c52" stroke-width="4" stroke-linejoin="round" stroke-linecap="butt"/>
<path d="M1452.0,815.8 L1470.0,813.0 L1485.0,808.8 L1495.0,806.2 L1502.5,804.5 L1508.8,805.0 L1515.0,800.5 L1521.2,798.0 L1527.5,792.5 L1533.8,786.2 L1540.0,780.0 L1546.2,771.2 L1550.0,762.5 L1555.0,750.0 L1560.0,738.8 L1565.0,727.5 L1570.0,717.5 L1573.8,708.8 L1577.0,697.5 L1578.8,695.0 L1582.5,705.0 L1586.2,702.5 L1590.0,700.0 L1593.0,707.5 L1596.2,715.0 L1599.5,725.0 L1602.5,737.5 L1606.2,752.5 L1610.0,767.5 L1613.8,782.5 L1617.5,795.0 L1621.2,803.8 L1626.2,810.0 L1632.5,813.8 L1645.0,815.8 L1817.0,815.8 L1817.0,815.8 L1452.0,815.8 Z" fill="#ee5533" fill-opacity="0.55" stroke="none"/>
<path d="M1452.0,815.8 L1470.0,813.0 L1485.0,808.8 L1495.0,806.2 L1502.5,804.5 L1508.8,805.0 L1515.0,800.5 L1521.2,798.0 L1527.5,792.5 L1533.8,786.2 L1540.0,780.0 L1546.2,771.2 L1550.0,762.5 L1555.0,750.0 L1560.0,738.8 L1565.0,727.5 L1570.0,717.5 L1573.8,708.8 L1577.0,697.5 L1578.8,695.0 L1582.5,705.0 L1586.2,702.5 L1590.0,700.0 L1593.0,707.5 L1596.2,715.0 L1599.5,725.0 L1602.5,737.5 L1606.2,752.5 L1610.0,767.5 L1613.8,782.5 L1617.5,795.0 L1621.2,803.8 L1626.2,810.0 L1632.5,813.8 L1645.0,815.8 L1817.0,815.8" fill="none" stroke="#e8262a" stroke-width="4" stroke-linejoin="round" stroke-linecap="butt"/>
<path d="M1452.0,882.5 L1465.0,880.5 L1480.0,877.0 L1492.5,874.5 L1500.0,870.0 L1507.5,867.5 L1515.0,865.0 L1522.5,861.2 L1527.5,860.0 L1532.5,853.8 L1537.5,848.8 L1542.5,846.2 L1547.5,835.0 L1552.5,823.8 L1557.5,818.8 L1561.2,807.5 L1565.0,795.0 L1568.0,788.8 L1571.2,787.5 L1575.0,790.0 L1578.8,777.5 L1581.2,766.2 L1583.8,762.0 L1586.2,763.8 L1590.0,773.8 L1593.8,783.8 L1597.5,795.0 L1601.2,812.5 L1605.0,830.0 L1608.8,847.5 L1612.5,862.5 L1616.2,871.2 L1620.0,876.2 L1627.5,880.0 L1637.5,882.5 L1817.0,882.5 L1817.0,882.5 L1452.0,882.5 Z" fill="#e0603a" fill-opacity="0.5" stroke="none"/>
<path d="M1452.0,882.5 L1465.0,880.5 L1480.0,877.0 L1492.5,874.5 L1500.0,870.0 L1507.5,867.5 L1515.0,865.0 L1522.5,861.2 L1527.5,860.0 L1532.5,853.8 L1537.5,848.8 L1542.5,846.2 L1547.5,835.0 L1552.5,823.8 L1557.5,818.8 L1561.2,807.5 L1565.0,795.0 L1568.0,788.8 L1571.2,787.5 L1575.0,790.0 L1578.8,777.5 L1581.2,766.2 L1583.8,762.0 L1586.2,763.8 L1590.0,773.8 L1593.8,783.8 L1597.5,795.0 L1601.2,812.5 L1605.0,830.0 L1608.8,847.5 L1612.5,862.5 L1616.2,871.2 L1620.0,876.2 L1627.5,880.0 L1637.5,882.5 L1817.0,882.5" fill="none" stroke="#d42c32" stroke-width="4" stroke-linejoin="round" stroke-linecap="butt"/>
<path d="M1453.8,943.0 L1465.0,942.0 L1480.0,940.0 L1487.5,937.5 L1495.0,933.8 L1500.0,933.0 L1506.2,933.2 L1512.5,931.2 L1520.0,927.5 L1527.5,921.2 L1533.8,913.8 L1537.5,907.5 L1541.2,902.5 L1545.0,901.2 L1548.8,896.2 L1552.5,890.0 L1556.2,882.5 L1560.0,872.5 L1563.8,862.5 L1566.2,850.0 L1570.0,840.0 L1573.8,833.8 L1576.2,831.2 L1578.8,833.8 L1582.0,826.2 L1585.0,828.8 L1588.8,833.8 L1592.5,845.0 L1595.0,857.5 L1597.5,872.5 L1600.0,887.5 L1603.8,905.0 L1607.5,920.0 L1611.2,931.2 L1615.0,937.5 L1620.0,942.0 L1627.5,943.8 L1817.0,944.0" fill="none" stroke="#000" stroke-width="4" stroke-linejoin="round" stroke-linecap="butt"/>
<rect x="1453.3" y="541.3" width="363.7" height="404.2" fill="none" stroke="#111" stroke-width="2"/>
<clipPath id="clc1"><rect x="1066" y="940" width="365.5" height="20"/></clipPath><g clip-path="url(#clc1)">
<line x1="1177" y1="946.5" x2="1177" y2="956.5" stroke="#1a1a1a" stroke-width="2"/>
<line x1="1200.5" y1="946.5" x2="1200.5" y2="951.5" stroke="#1a1a1a" stroke-width="1.5"/>
<line x1="1214.2" y1="946.5" x2="1214.2" y2="951.5" stroke="#1a1a1a" stroke-width="1.5"/>
<line x1="1224.0" y1="946.5" x2="1224.0" y2="951.5" stroke="#1a1a1a" stroke-width="1.5"/>
<line x1="1231.5" y1="946.5" x2="1231.5" y2="951.5" stroke="#1a1a1a" stroke-width="1.5"/>
<line x1="1237.7" y1="946.5" x2="1237.7" y2="951.5" stroke="#1a1a1a" stroke-width="1.5"/>
<line x1="1242.9" y1="946.5" x2="1242.9" y2="951.5" stroke="#1a1a1a" stroke-width="1.5"/>
<line x1="1247.4" y1="946.5" x2="1247.4" y2="951.5" stroke="#1a1a1a" stroke-width="1.5"/>
<line x1="1251.4" y1="946.5" x2="1251.4" y2="951.5" stroke="#1a1a1a" stroke-width="1.5"/>
<line x1="1255" y1="946.5" x2="1255" y2="956.5" stroke="#1a1a1a" stroke-width="2"/>
<line x1="1275.1" y1="946.5" x2="1275.1" y2="951.5" stroke="#1a1a1a" stroke-width="1.5"/>
<line x1="1286.9" y1="946.5" x2="1286.9" y2="951.5" stroke="#1a1a1a" stroke-width="1.5"/>
<line x1="1295.2" y1="946.5" x2="1295.2" y2="951.5" stroke="#1a1a1a" stroke-width="1.5"/>
<line x1="1301.7" y1="946.5" x2="1301.7" y2="951.5" stroke="#1a1a1a" stroke-width="1.5"/>
<line x1="1307.0" y1="946.5" x2="1307.0" y2="951.5" stroke="#1a1a1a" stroke-width="1.5"/>
<line x1="1311.5" y1="946.5" x2="1311.5" y2="951.5" stroke="#1a1a1a" stroke-width="1.5"/>
<line x1="1315.3" y1="946.5" x2="1315.3" y2="951.5" stroke="#1a1a1a" stroke-width="1.5"/>
<line x1="1318.7" y1="946.5" x2="1318.7" y2="951.5" stroke="#1a1a1a" stroke-width="1.5"/>
<line x1="1321.8" y1="946.5" x2="1321.8" y2="956.5" stroke="#1a1a1a" stroke-width="2"/>
<line x1="1341.6" y1="946.5" x2="1341.6" y2="951.5" stroke="#1a1a1a" stroke-width="1.5"/>
<line x1="1353.1" y1="946.5" x2="1353.1" y2="951.5" stroke="#1a1a1a" stroke-width="1.5"/>
<line x1="1361.4" y1="946.5" x2="1361.4" y2="951.5" stroke="#1a1a1a" stroke-width="1.5"/>
<line x1="1367.7" y1="946.5" x2="1367.7" y2="951.5" stroke="#1a1a1a" stroke-width="1.5"/>
<line x1="1372.9" y1="946.5" x2="1372.9" y2="951.5" stroke="#1a1a1a" stroke-width="1.5"/>
<line x1="1377.3" y1="946.5" x2="1377.3" y2="951.5" stroke="#1a1a1a" stroke-width="1.5"/>
<line x1="1381.1" y1="946.5" x2="1381.1" y2="951.5" stroke="#1a1a1a" stroke-width="1.5"/>
<line x1="1384.5" y1="946.5" x2="1384.5" y2="951.5" stroke="#1a1a1a" stroke-width="1.5"/>
<line x1="1387.5" y1="946.5" x2="1387.5" y2="956.5" stroke="#1a1a1a" stroke-width="2"/>
<line x1="1407.3" y1="946.5" x2="1407.3" y2="951.5" stroke="#1a1a1a" stroke-width="1.5"/>
<line x1="1418.8" y1="946.5" x2="1418.8" y2="951.5" stroke="#1a1a1a" stroke-width="1.5"/>
<line x1="1427.1" y1="946.5" x2="1427.1" y2="951.5" stroke="#1a1a1a" stroke-width="1.5"/>
<line x1="1433.4" y1="946.5" x2="1433.4" y2="951.5" stroke="#1a1a1a" stroke-width="1.5"/>
<line x1="1438.6" y1="946.5" x2="1438.6" y2="951.5" stroke="#1a1a1a" stroke-width="1.5"/>
<line x1="1443.0" y1="946.5" x2="1443.0" y2="951.5" stroke="#1a1a1a" stroke-width="1.5"/>
<line x1="1446.8" y1="946.5" x2="1446.8" y2="951.5" stroke="#1a1a1a" stroke-width="1.5"/>
<line x1="1450.2" y1="946.5" x2="1450.2" y2="951.5" stroke="#1a1a1a" stroke-width="1.5"/>
<line x1="1453.2" y1="946.5" x2="1453.2" y2="956.5" stroke="#1a1a1a" stroke-width="2"/>
<line x1="1130.2" y1="946.5" x2="1130.2" y2="951.5" stroke="#1a1a1a" stroke-width="1.6"/>
<line x1="1119.8" y1="946.5" x2="1119.8" y2="951.5" stroke="#1a1a1a" stroke-width="1.6"/>
<line x1="1135.4" y1="946.5" x2="1135.4" y2="951.5" stroke="#1a1a1a" stroke-width="1.6"/>
<line x1="1114.6" y1="946.5" x2="1114.6" y2="951.5" stroke="#1a1a1a" stroke-width="1.6"/>
<line x1="1140.6" y1="946.5" x2="1140.6" y2="951.5" stroke="#1a1a1a" stroke-width="1.6"/>
<line x1="1109.4" y1="946.5" x2="1109.4" y2="951.5" stroke="#1a1a1a" stroke-width="1.6"/>
<line x1="1145.8" y1="946.5" x2="1145.8" y2="951.5" stroke="#1a1a1a" stroke-width="1.6"/>
<line x1="1104.2" y1="946.5" x2="1104.2" y2="951.5" stroke="#1a1a1a" stroke-width="1.6"/>
<line x1="1151.0" y1="946.5" x2="1151.0" y2="951.5" stroke="#1a1a1a" stroke-width="1.6"/>
<line x1="1099.0" y1="946.5" x2="1099.0" y2="951.5" stroke="#1a1a1a" stroke-width="1.6"/>
<line x1="1156.2" y1="946.5" x2="1156.2" y2="951.5" stroke="#1a1a1a" stroke-width="1.6"/>
<line x1="1093.8" y1="946.5" x2="1093.8" y2="951.5" stroke="#1a1a1a" stroke-width="1.6"/>
<line x1="1161.4" y1="946.5" x2="1161.4" y2="951.5" stroke="#1a1a1a" stroke-width="1.6"/>
<line x1="1088.6" y1="946.5" x2="1088.6" y2="951.5" stroke="#1a1a1a" stroke-width="1.6"/>
<line x1="1166.6" y1="946.5" x2="1166.6" y2="951.5" stroke="#1a1a1a" stroke-width="1.6"/>
<line x1="1083.4" y1="946.5" x2="1083.4" y2="951.5" stroke="#1a1a1a" stroke-width="1.6"/>
<line x1="1171.8" y1="946.5" x2="1171.8" y2="951.5" stroke="#1a1a1a" stroke-width="1.6"/>
<line x1="1078.2" y1="946.5" x2="1078.2" y2="951.5" stroke="#1a1a1a" stroke-width="1.6"/>
<line x1="1122" y1="946.5" x2="1122" y2="953.5" stroke="#1a1a1a" stroke-width="1.6"/>
<line x1="1123.5" y1="946.5" x2="1123.5" y2="953.5" stroke="#1a1a1a" stroke-width="1.6"/>
<line x1="1125" y1="946.5" x2="1125" y2="953.5" stroke="#1a1a1a" stroke-width="1.6"/>
<line x1="1126.5" y1="946.5" x2="1126.5" y2="953.5" stroke="#1a1a1a" stroke-width="1.6"/>
<line x1="1128" y1="946.5" x2="1128" y2="953.5" stroke="#1a1a1a" stroke-width="1.6"/>
<line x1="1073" y1="946.5" x2="1073" y2="955.5" stroke="#1a1a1a" stroke-width="1.8"/>
<line x1="1151.0" y1="946.5" x2="1151.0" y2="953.5" stroke="#1a1a1a" stroke-width="1.5"/>
<line x1="1099.0" y1="946.5" x2="1099.0" y2="953.5" stroke="#1a1a1a" stroke-width="1.5"/>
</g>
<text x="1125" y="981" font-size="20" text-anchor="middle" fill="#1a1a1a">0</text>
<text x="1162" y="981" font-size="20" fill="#1a1a1a">10</text>
<text x="1184.8" y="968.2" font-size="14.8" fill="#1a1a1a">3</text>
<text x="1242.2" y="981" font-size="20" fill="#1a1a1a">10</text>
<text x="1265.0" y="968.2" font-size="14.8" fill="#1a1a1a">4</text>
<text x="1309.0" y="981" font-size="20" fill="#1a1a1a">10</text>
<text x="1331.8" y="968.2" font-size="14.8" fill="#1a1a1a">5</text>
<text x="1374.7" y="981" font-size="20" fill="#1a1a1a">10</text>
<text x="1397.5" y="968.2" font-size="14.8" fill="#1a1a1a">6</text>
<clipPath id="clc2"><rect x="1452.3" y="940" width="365.70000000000005" height="20"/></clipPath><g clip-path="url(#clc2)">
<line x1="1561.3" y1="946.5" x2="1561.3" y2="956.5" stroke="#1a1a1a" stroke-width="2"/>
<line x1="1584.8" y1="946.5" x2="1584.8" y2="951.5" stroke="#1a1a1a" stroke-width="1.5"/>
<line x1="1598.6" y1="946.5" x2="1598.6" y2="951.5" stroke="#1a1a1a" stroke-width="1.5"/>
<line x1="1608.4" y1="946.5" x2="1608.4" y2="951.5" stroke="#1a1a1a" stroke-width="1.5"/>
<line x1="1616.0" y1="946.5" x2="1616.0" y2="951.5" stroke="#1a1a1a" stroke-width="1.5"/>
<line x1="1622.2" y1="946.5" x2="1622.2" y2="951.5" stroke="#1a1a1a" stroke-width="1.5"/>
<line x1="1627.4" y1="946.5" x2="1627.4" y2="951.5" stroke="#1a1a1a" stroke-width="1.5"/>
<line x1="1631.9" y1="946.5" x2="1631.9" y2="951.5" stroke="#1a1a1a" stroke-width="1.5"/>
<line x1="1635.9" y1="946.5" x2="1635.9" y2="951.5" stroke="#1a1a1a" stroke-width="1.5"/>
<line x1="1639.5" y1="946.5" x2="1639.5" y2="956.5" stroke="#1a1a1a" stroke-width="2"/>
<line x1="1659.6" y1="946.5" x2="1659.6" y2="951.5" stroke="#1a1a1a" stroke-width="1.5"/>
<line x1="1671.4" y1="946.5" x2="1671.4" y2="951.5" stroke="#1a1a1a" stroke-width="1.5"/>
<line x1="1679.7" y1="946.5" x2="1679.7" y2="951.5" stroke="#1a1a1a" stroke-width="1.5"/>
<line x1="1686.2" y1="946.5" x2="1686.2" y2="951.5" stroke="#1a1a1a" stroke-width="1.5"/>
<line x1="1691.5" y1="946.5" x2="1691.5" y2="951.5" stroke="#1a1a1a" stroke-width="1.5"/>
<line x1="1696.0" y1="946.5" x2="1696.0" y2="951.5" stroke="#1a1a1a" stroke-width="1.5"/>
<line x1="1699.8" y1="946.5" x2="1699.8" y2="951.5" stroke="#1a1a1a" stroke-width="1.5"/>
<line x1="1703.2" y1="946.5" x2="1703.2" y2="951.5" stroke="#1a1a1a" stroke-width="1.5"/>
<line x1="1706.3" y1="946.5" x2="1706.3" y2="956.5" stroke="#1a1a1a" stroke-width="2"/>
<line x1="1726.1" y1="946.5" x2="1726.1" y2="951.5" stroke="#1a1a1a" stroke-width="1.5"/>
<line x1="1737.6" y1="946.5" x2="1737.6" y2="951.5" stroke="#1a1a1a" stroke-width="1.5"/>
<line x1="1745.9" y1="946.5" x2="1745.9" y2="951.5" stroke="#1a1a1a" stroke-width="1.5"/>
<line x1="1752.2" y1="946.5" x2="1752.2" y2="951.5" stroke="#1a1a1a" stroke-width="1.5"/>
<line x1="1757.4" y1="946.5" x2="1757.4" y2="951.5" stroke="#1a1a1a" stroke-width="1.5"/>
<line x1="1761.8" y1="946.5" x2="1761.8" y2="951.5" stroke="#1a1a1a" stroke-width="1.5"/>
<line x1="1765.6" y1="946.5" x2="1765.6" y2="951.5" stroke="#1a1a1a" stroke-width="1.5"/>
<line x1="1769.0" y1="946.5" x2="1769.0" y2="951.5" stroke="#1a1a1a" stroke-width="1.5"/>
<line x1="1772" y1="946.5" x2="1772" y2="956.5" stroke="#1a1a1a" stroke-width="2"/>
<line x1="1791.8" y1="946.5" x2="1791.8" y2="951.5" stroke="#1a1a1a" stroke-width="1.5"/>
<line x1="1803.3" y1="946.5" x2="1803.3" y2="951.5" stroke="#1a1a1a" stroke-width="1.5"/>
<line x1="1811.6" y1="946.5" x2="1811.6" y2="951.5" stroke="#1a1a1a" stroke-width="1.5"/>
<line x1="1817.9" y1="946.5" x2="1817.9" y2="951.5" stroke="#1a1a1a" stroke-width="1.5"/>
<line x1="1823.1" y1="946.5" x2="1823.1" y2="951.5" stroke="#1a1a1a" stroke-width="1.5"/>
<line x1="1827.5" y1="946.5" x2="1827.5" y2="951.5" stroke="#1a1a1a" stroke-width="1.5"/>
<line x1="1831.3" y1="946.5" x2="1831.3" y2="951.5" stroke="#1a1a1a" stroke-width="1.5"/>
<line x1="1834.7" y1="946.5" x2="1834.7" y2="951.5" stroke="#1a1a1a" stroke-width="1.5"/>
<line x1="1837.7" y1="946.5" x2="1837.7" y2="956.5" stroke="#1a1a1a" stroke-width="2"/>
<line x1="1514.7" y1="946.5" x2="1514.7" y2="951.5" stroke="#1a1a1a" stroke-width="1.6"/>
<line x1="1504.3" y1="946.5" x2="1504.3" y2="951.5" stroke="#1a1a1a" stroke-width="1.6"/>
<line x1="1519.9" y1="946.5" x2="1519.9" y2="951.5" stroke="#1a1a1a" stroke-width="1.6"/>
<line x1="1499.1" y1="946.5" x2="1499.1" y2="951.5" stroke="#1a1a1a" stroke-width="1.6"/>
<line x1="1525.0" y1="946.5" x2="1525.0" y2="951.5" stroke="#1a1a1a" stroke-width="1.6"/>
<line x1="1494.0" y1="946.5" x2="1494.0" y2="951.5" stroke="#1a1a1a" stroke-width="1.6"/>
<line x1="1530.2" y1="946.5" x2="1530.2" y2="951.5" stroke="#1a1a1a" stroke-width="1.6"/>
<line x1="1488.8" y1="946.5" x2="1488.8" y2="951.5" stroke="#1a1a1a" stroke-width="1.6"/>
<line x1="1535.4" y1="946.5" x2="1535.4" y2="951.5" stroke="#1a1a1a" stroke-width="1.6"/>
<line x1="1483.6" y1="946.5" x2="1483.6" y2="951.5" stroke="#1a1a1a" stroke-width="1.6"/>
<line x1="1540.6" y1="946.5" x2="1540.6" y2="951.5" stroke="#1a1a1a" stroke-width="1.6"/>
<line x1="1478.4" y1="946.5" x2="1478.4" y2="951.5" stroke="#1a1a1a" stroke-width="1.6"/>
<line x1="1545.8" y1="946.5" x2="1545.8" y2="951.5" stroke="#1a1a1a" stroke-width="1.6"/>
<line x1="1473.2" y1="946.5" x2="1473.2" y2="951.5" stroke="#1a1a1a" stroke-width="1.6"/>
<line x1="1550.9" y1="946.5" x2="1550.9" y2="951.5" stroke="#1a1a1a" stroke-width="1.6"/>
<line x1="1468.1" y1="946.5" x2="1468.1" y2="951.5" stroke="#1a1a1a" stroke-width="1.6"/>
<line x1="1556.1" y1="946.5" x2="1556.1" y2="951.5" stroke="#1a1a1a" stroke-width="1.6"/>
<line x1="1462.9" y1="946.5" x2="1462.9" y2="951.5" stroke="#1a1a1a" stroke-width="1.6"/>
<line x1="1506.5" y1="946.5" x2="1506.5" y2="953.5" stroke="#1a1a1a" stroke-width="1.6"/>
<line x1="1508.0" y1="946.5" x2="1508.0" y2="953.5" stroke="#1a1a1a" stroke-width="1.6"/>
<line x1="1509.5" y1="946.5" x2="1509.5" y2="953.5" stroke="#1a1a1a" stroke-width="1.6"/>
<line x1="1511.0" y1="946.5" x2="1511.0" y2="953.5" stroke="#1a1a1a" stroke-width="1.6"/>
<line x1="1512.5" y1="946.5" x2="1512.5" y2="953.5" stroke="#1a1a1a" stroke-width="1.6"/>
<line x1="1457.7" y1="946.5" x2="1457.7" y2="955.5" stroke="#1a1a1a" stroke-width="1.8"/>
<line x1="1535.4" y1="946.5" x2="1535.4" y2="953.5" stroke="#1a1a1a" stroke-width="1.5"/>
<line x1="1483.6" y1="946.5" x2="1483.6" y2="953.5" stroke="#1a1a1a" stroke-width="1.5"/>
</g>
<text x="1509.5" y="981" font-size="20" text-anchor="middle" fill="#1a1a1a">0</text>
<text x="1549.3" y="981" font-size="20" fill="#1a1a1a">10</text>
<text x="1572.1" y="968.2" font-size="14.8" fill="#1a1a1a">3</text>
<text x="1626.7" y="981" font-size="20" fill="#1a1a1a">10</text>
<text x="1649.5" y="968.2" font-size="14.8" fill="#1a1a1a">4</text>
<text x="1693.5" y="981" font-size="20" fill="#1a1a1a">10</text>
<text x="1716.3" y="968.2" font-size="14.8" fill="#1a1a1a">5</text>
<text x="1759.2" y="981" font-size="20" fill="#1a1a1a">10</text>
<text x="1782.0" y="968.2" font-size="14.8" fill="#1a1a1a">6</text>
<text x="1044" y="694.6" font-size="33" text-anchor="end" fill="#2a2a2a">10</text>
<text x="1053.5" y="677.1" font-size="21.5" fill="#2a2a2a">1</text>
<text x="1044" y="759.5" font-size="33" text-anchor="end" fill="#2a2a2a">10</text>
<text x="1050.5" y="744.0" font-size="21.5" fill="#2a2a2a">0</text>
<text x="1041.5" y="828.4" font-size="33" text-anchor="end" fill="#2a2a2a">10</text>
<text x="1044.0" y="808.4" font-size="21.5" fill="#2a2a2a">-1</text>
<text x="1041.5" y="898.6" font-size="33" text-anchor="end" fill="#2a2a2a">10</text>
<text x="1044.0" y="877.6" font-size="21.5" fill="#2a2a2a">-2</text>
<text x="1052.5" y="963" font-size="33" text-anchor="end" fill="#2a2a2a">0</text>
<text x="1001" y="758" font-size="32.5" text-anchor="middle" transform="rotate(-90 1001 758)" fill="#1a1a1a">Protein (ug/mL)</text>
<line x1="1125" y1="1008.3" x2="1187.2" y2="1008.3" stroke="#1a1a1a" stroke-width="2"/>
<path d="M1199.8,1008.3 L1178.8,1000.8 L1184.68,1008.3 L1178.8,1015.8 Z" fill="#111"/>
<text x="1209" y="1018" font-size="33.4" fill="#1a1a1a">anti-Fc-PE (CD28-Fc Protein binding)</text>
<text x="974" y="1057.5" font-size="40" font-weight="bold" fill="#1a1a1a">d</text>
<path d="M1034.4,1452.0 L1045.9,1450.2 L1053.6,1445.6 L1059.9,1436.7 L1066.3,1422.7 L1072.7,1404.8 L1079.1,1386.9 L1084.2,1372.9 L1089.3,1364.0 L1094.4,1352.5 L1099.5,1338.5 L1104.6,1320.6 L1108.4,1302.8 L1112.2,1288.7 L1114.8,1272.1 L1117.9,1253.0 L1119.9,1252.2 L1123.0,1258.1 L1126.3,1244.1 L1130.1,1226.2 L1133.9,1210.9 L1137.8,1195.6 L1141.6,1193.1 L1145.4,1190.5 L1149.2,1179.0 L1153.1,1171.4 L1156.1,1176.5 L1160.2,1184.1 L1164.5,1167.6 L1168.4,1142.0 L1171.4,1131.3 L1174.7,1134.4 L1178.6,1144.6 L1183.7,1145.9 L1187.5,1142.0 L1190.8,1116.5 L1193.9,1108.4 L1196.9,1114.0 L1201.5,1128.0 L1205.4,1147.1 L1209.2,1165.0 L1213.8,1179.0 L1216.8,1191.8 L1220.7,1193.1 L1224.5,1213.5 L1228.3,1241.5 L1231.6,1249.2 L1234.7,1250.5 L1238.5,1267.0 L1242.3,1290.0 L1246.2,1305.3 L1250.0,1316.8 L1253.8,1330.8 L1257.7,1351.2 L1261.5,1369.1 L1265.3,1385.7 L1269.1,1397.1 L1274.2,1399.7 L1278.1,1409.9 L1283.2,1422.7 L1288.3,1430.3 L1293.4,1439.2 L1298.5,1444.3 L1306.1,1448.7 L1316.3,1451.2 L1331.6,1452.8 L1357.1,1453.5 L1462.2,1453.8 L1462.2,1453.5 L1034.4,1453.5 Z" fill="#bfe4e4" fill-opacity="0.6" stroke="none"/>
<path d="M1034.4,1452.0 L1045.9,1450.2 L1053.6,1445.6 L1059.9,1436.7 L1066.3,1422.7 L1072.7,1404.8 L1079.1,1386.9 L1084.2,1372.9 L1089.3,1364.0 L1094.4,1352.5 L1099.5,1338.5 L1104.6,1320.6 L1108.4,1302.8 L1112.2,1288.7 L1114.8,1272.1 L1117.9,1253.0 L1119.9,1252.2 L1123.0,1258.1 L1126.3,1244.1 L1130.1,1226.2 L1133.9,1210.9 L1137.8,1195.6 L1141.6,1193.1 L1145.4,1190.5 L1149.2,1179.0 L1153.1,1171.4 L1156.1,1176.5 L1160.2,1184.1 L1164.5,1167.6 L1168.4,1142.0 L1171.4,1131.3 L1174.7,1134.4 L1178.6,1144.6 L1183.7,1145.9 L1187.5,1142.0 L1190.8,1116.5 L1193.9,1108.4 L1196.9,1114.0 L1201.5,1128.0 L1205.4,1147.1 L1209.2,1165.0 L1213.8,1179.0 L1216.8,1191.8 L1220.7,1193.1 L1224.5,1213.5 L1228.3,1241.5 L1231.6,1249.2 L1234.7,1250.5 L1238.5,1267.0 L1242.3,1290.0 L1246.2,1305.3 L1250.0,1316.8 L1253.8,1330.8 L1257.7,1351.2 L1261.5,1369.1 L1265.3,1385.7 L1269.1,1397.1 L1274.2,1399.7 L1278.1,1409.9 L1283.2,1422.7 L1288.3,1430.3 L1293.4,1439.2 L1298.5,1444.3 L1306.1,1448.7 L1316.3,1451.2 L1331.6,1452.8 L1357.1,1453.5 L1462.2,1453.8" fill="none" stroke="#5fc0bc" stroke-width="3.7" stroke-linejoin="round" stroke-linecap="butt"/>
<path d="M1096.9,1453.3 L1107.1,1451.2 L1117.3,1448.2 L1125.0,1446.9 L1132.7,1443.1 L1142.9,1436.7 L1150.5,1430.3 L1158.2,1421.4 L1164.5,1412.4 L1168.4,1404.8 L1172.2,1401.0 L1176.0,1399.7 L1181.1,1392.0 L1184.9,1381.8 L1188.8,1369.1 L1192.6,1358.9 L1195.2,1356.3 L1199.0,1355.1 L1204.1,1351.2 L1207.9,1341.0 L1213.0,1328.3 L1218.1,1315.5 L1220.7,1302.8 L1223.2,1293.8 L1227.0,1290.0 L1230.9,1286.2 L1234.7,1278.5 L1238.5,1261.9 L1241.1,1239.0 L1242.9,1216.0 L1245.4,1207.1 L1248.0,1213.5 L1251.3,1214.7 L1253.8,1193.1 L1257.1,1177.8 L1260.2,1190.5 L1263.3,1207.1 L1266.6,1207.1 L1269.1,1188.0 L1272.4,1172.7 L1275.5,1181.6 L1278.6,1190.5 L1281.9,1182.9 L1284.4,1159.9 L1287.0,1134.4 L1289.5,1136.9 L1292.1,1157.3 L1295.9,1172.7 L1299.7,1182.9 L1303.6,1203.3 L1307.4,1218.6 L1311.2,1236.4 L1315.1,1256.8 L1318.9,1277.2 L1322.7,1297.7 L1326.5,1318.1 L1329.1,1330.8 L1332.9,1338.5 L1336.7,1346.1 L1340.6,1361.4 L1344.4,1376.7 L1348.2,1389.5 L1352.0,1399.7 L1355.9,1415.0 L1359.7,1427.8 L1363.5,1436.7 L1368.6,1443.1 L1375.0,1448.2 L1385.2,1452.0 L1398.0,1453.8 L1462.2,1453.8" fill="none" stroke="#3b55a5" stroke-width="3.9" stroke-linejoin="round" stroke-linecap="butt"/>
<rect x="1034.4" y="1050.2" width="427.8" height="403.6" fill="none" stroke="#111" stroke-width="2"/>
<line x1="1034.4" y1="1120.6" x2="1232.7" y2="1120.6" stroke="#1a1a1a" stroke-width="1.6"/>
<line x1="1232.7" y1="1112" x2="1232.7" y2="1129.5" stroke="#1a1a1a" stroke-width="1.6"/>
<line x1="1232.7" y1="1141.5" x2="1462.2" y2="1141.5" stroke="#1a1a1a" stroke-width="1.6"/>
<line x1="1232.7" y1="1133" x2="1232.7" y2="1150" stroke="#1a1a1a" stroke-width="1.6"/>
<text x="1047" y="1080.8" font-size="32" fill="#1a1a1a">CD28-</text>
<text x="1047" y="1114" font-size="32" fill="#1a1a1a">85%</text>
<text x="1454.5" y="1080.8" font-size="32" text-anchor="end" fill="#1a1a1a">CD28+</text>
<text x="1442" y="1114" font-size="32" text-anchor="end" fill="#1a1a1a">14%</text>
<rect x="1028.2" y="1065.8" width="6.2" height="6" fill="#111" stroke="none" stroke-width="0"/>
<rect x="1028.2" y="1142.4" width="6.2" height="6" fill="#111" stroke="none" stroke-width="0"/>
<rect x="1028.2" y="1220.2" width="6.2" height="6" fill="#111" stroke="none" stroke-width="0"/>
<rect x="1028.2" y="1297.2" width="6.2" height="6" fill="#111" stroke="none" stroke-width="0"/>
<rect x="1028.2" y="1374.2" width="6.2" height="6" fill="#111" stroke="none" stroke-width="0"/>
<rect x="1030.6" y="1067.6" width="3.8" height="2.4" fill="#111" stroke="none" stroke-width="0"/>
<rect x="1030.6" y="1086.8" width="3.8" height="2.4" fill="#111" stroke="none" stroke-width="0"/>
<rect x="1030.6" y="1105.9" width="3.8" height="2.4" fill="#111" stroke="none" stroke-width="0"/>
<rect x="1030.6" y="1125.1" width="3.8" height="2.4" fill="#111" stroke="none" stroke-width="0"/>
<rect x="1030.6" y="1144.2" width="3.8" height="2.4" fill="#111" stroke="none" stroke-width="0"/>
<rect x="1030.6" y="1163.4" width="3.8" height="2.4" fill="#111" stroke="none" stroke-width="0"/>
<rect x="1030.6" y="1182.5" width="3.8" height="2.4" fill="#111" stroke="none" stroke-width="0"/>
<rect x="1030.6" y="1201.7" width="3.8" height="2.4" fill="#111" stroke="none" stroke-width="0"/>
<rect x="1030.6" y="1220.8" width="3.8" height="2.4" fill="#111" stroke="none" stroke-width="0"/>
<rect x="1030.6" y="1240.0" width="3.8" height="2.4" fill="#111" stroke="none" stroke-width="0"/>
<rect x="1030.6" y="1259.1" width="3.8" height="2.4" fill="#111" stroke="none" stroke-width="0"/>
<rect x="1030.6" y="1278.3" width="3.8" height="2.4" fill="#111" stroke="none" stroke-width="0"/>
<rect x="1030.6" y="1297.4" width="3.8" height="2.4" fill="#111" stroke="none" stroke-width="0"/>
<rect x="1030.6" y="1316.6" width="3.8" height="2.4" fill="#111" stroke="none" stroke-width="0"/>
<rect x="1030.6" y="1335.7" width="3.8" height="2.4" fill="#111" stroke="none" stroke-width="0"/>
<rect x="1030.6" y="1354.9" width="3.8" height="2.4" fill="#111" stroke="none" stroke-width="0"/>
<rect x="1030.6" y="1374.0" width="3.8" height="2.4" fill="#111" stroke="none" stroke-width="0"/>
<rect x="1030.6" y="1393.2" width="3.8" height="2.4" fill="#111" stroke="none" stroke-width="0"/>
<rect x="1030.6" y="1412.3" width="3.8" height="2.4" fill="#111" stroke="none" stroke-width="0"/>
<rect x="1030.6" y="1431.5" width="3.8" height="2.4" fill="#111" stroke="none" stroke-width="0"/>
<rect x="1030.6" y="1450.6" width="3.8" height="2.4" fill="#111" stroke="none" stroke-width="0"/>
<rect x="1031.5" y="1316" width="5" height="17" fill="#111" stroke="none" stroke-width="0" rx="2.5"/>
<clipPath id="cld"><rect x="1033" y="1450" width="430" height="12"/></clipPath><g clip-path="url(#cld)">
<line x1="1247" y1="1455" x2="1247" y2="1460.5" stroke="#1a1a1a" stroke-width="1.8"/>
<line x1="1289.2" y1="1455" x2="1289.2" y2="1458.5" stroke="#1a1a1a" stroke-width="1.35"/>
<line x1="1313.9" y1="1455" x2="1313.9" y2="1458.5" stroke="#1a1a1a" stroke-width="1.35"/>
<line x1="1331.4" y1="1455" x2="1331.4" y2="1458.5" stroke="#1a1a1a" stroke-width="1.35"/>
<line x1="1345.0" y1="1455" x2="1345.0" y2="1458.5" stroke="#1a1a1a" stroke-width="1.35"/>
<line x1="1356.1" y1="1455" x2="1356.1" y2="1458.5" stroke="#1a1a1a" stroke-width="1.35"/>
<line x1="1365.5" y1="1455" x2="1365.5" y2="1458.5" stroke="#1a1a1a" stroke-width="1.35"/>
<line x1="1373.6" y1="1455" x2="1373.6" y2="1458.5" stroke="#1a1a1a" stroke-width="1.35"/>
<line x1="1380.8" y1="1455" x2="1380.8" y2="1458.5" stroke="#1a1a1a" stroke-width="1.35"/>
<line x1="1387.2" y1="1455" x2="1387.2" y2="1460.5" stroke="#1a1a1a" stroke-width="1.8"/>
<line x1="1429.3" y1="1455" x2="1429.3" y2="1458.5" stroke="#1a1a1a" stroke-width="1.35"/>
<line x1="1453.9" y1="1455" x2="1453.9" y2="1458.5" stroke="#1a1a1a" stroke-width="1.35"/>
<line x1="1471.4" y1="1455" x2="1471.4" y2="1458.5" stroke="#1a1a1a" stroke-width="1.35"/>
<line x1="1484.9" y1="1455" x2="1484.9" y2="1458.5" stroke="#1a1a1a" stroke-width="1.35"/>
<line x1="1496.0" y1="1455" x2="1496.0" y2="1458.5" stroke="#1a1a1a" stroke-width="1.35"/>
<line x1="1505.3" y1="1455" x2="1505.3" y2="1458.5" stroke="#1a1a1a" stroke-width="1.35"/>
<line x1="1513.5" y1="1455" x2="1513.5" y2="1458.5" stroke="#1a1a1a" stroke-width="1.35"/>
<line x1="1520.6" y1="1455" x2="1520.6" y2="1458.5" stroke="#1a1a1a" stroke-width="1.35"/>
<line x1="1527" y1="1455" x2="1527" y2="1460.5" stroke="#1a1a1a" stroke-width="1.8"/>
<line x1="1153.3" y1="1455" x2="1153.3" y2="1458.5" stroke="#1a1a1a" stroke-width="1.4"/>
<line x1="1132.5" y1="1455" x2="1132.5" y2="1458.5" stroke="#1a1a1a" stroke-width="1.4"/>
<line x1="1163.7" y1="1455" x2="1163.7" y2="1458.5" stroke="#1a1a1a" stroke-width="1.4"/>
<line x1="1122.1" y1="1455" x2="1122.1" y2="1458.5" stroke="#1a1a1a" stroke-width="1.4"/>
<line x1="1174.1" y1="1455" x2="1174.1" y2="1458.5" stroke="#1a1a1a" stroke-width="1.4"/>
<line x1="1111.7" y1="1455" x2="1111.7" y2="1458.5" stroke="#1a1a1a" stroke-width="1.4"/>
<line x1="1184.5" y1="1455" x2="1184.5" y2="1458.5" stroke="#1a1a1a" stroke-width="1.4"/>
<line x1="1101.3" y1="1455" x2="1101.3" y2="1458.5" stroke="#1a1a1a" stroke-width="1.4"/>
<line x1="1195.0" y1="1455" x2="1195.0" y2="1458.5" stroke="#1a1a1a" stroke-width="1.4"/>
<line x1="1090.9" y1="1455" x2="1090.9" y2="1458.5" stroke="#1a1a1a" stroke-width="1.4"/>
<line x1="1205.4" y1="1455" x2="1205.4" y2="1458.5" stroke="#1a1a1a" stroke-width="1.4"/>
<line x1="1080.4" y1="1455" x2="1080.4" y2="1458.5" stroke="#1a1a1a" stroke-width="1.4"/>
<line x1="1215.8" y1="1455" x2="1215.8" y2="1458.5" stroke="#1a1a1a" stroke-width="1.4"/>
<line x1="1070.0" y1="1455" x2="1070.0" y2="1458.5" stroke="#1a1a1a" stroke-width="1.4"/>
<line x1="1226.2" y1="1455" x2="1226.2" y2="1458.5" stroke="#1a1a1a" stroke-width="1.4"/>
<line x1="1059.6" y1="1455" x2="1059.6" y2="1458.5" stroke="#1a1a1a" stroke-width="1.4"/>
<line x1="1236.6" y1="1455" x2="1236.6" y2="1458.5" stroke="#1a1a1a" stroke-width="1.4"/>
<line x1="1049.2" y1="1455" x2="1049.2" y2="1458.5" stroke="#1a1a1a" stroke-width="1.4"/>
<line x1="1035.7" y1="1455" x2="1035.7" y2="1460.5" stroke="#1a1a1a" stroke-width="1.8"/>
<rect x="1128" y="1454.5" width="28" height="2.6" fill="#111" stroke="none" stroke-width="0"/>
<line x1="1128.9" y1="1455" x2="1128.9" y2="1460.5" stroke="#1a1a1a" stroke-width="1.6"/>
<line x1="1138.9" y1="1455" x2="1138.9" y2="1460.5" stroke="#1a1a1a" stroke-width="1.6"/>
<line x1="1141.4" y1="1455" x2="1141.4" y2="1460.5" stroke="#1a1a1a" stroke-width="1.6"/>
<line x1="1143.9" y1="1455" x2="1143.9" y2="1460.5" stroke="#1a1a1a" stroke-width="1.6"/>
<line x1="1146.4" y1="1455" x2="1146.4" y2="1460.5" stroke="#1a1a1a" stroke-width="1.6"/>
<line x1="1155.9" y1="1455" x2="1155.9" y2="1460.5" stroke="#1a1a1a" stroke-width="1.6"/>
</g>
<text x="1025.5" y="1480" font-size="20" fill="#1a1a1a">-10</text>
<text x="1055" y="1472.5" font-size="14.8" fill="#1a1a1a">3</text>
<text x="1143.5" y="1480" font-size="20" text-anchor="middle" fill="#1a1a1a">0</text>
<text x="1235" y="1480" font-size="20" fill="#1a1a1a">10</text>
<text x="1257" y="1472.5" font-size="14.8" fill="#1a1a1a">3</text>
<text x="1374.3" y="1480" font-size="20" fill="#1a1a1a">10</text>
<text x="1396.3" y="1472.5" font-size="14.8" fill="#1a1a1a">4</text>
<line x1="1105" y1="1501.7" x2="1165.4" y2="1501.7" stroke="#1a1a1a" stroke-width="2"/>
<path d="M1178,1501.7 L1157,1494.2 L1162.88,1501.7 L1157,1509.2 Z" fill="#111"/>
<text x="1179.5" y="1513" font-size="32.6" fill="#1a1a1a">CD28-BB515</text>
<line x1="1022.3" y1="1553" x2="1062.5" y2="1553" stroke="#3b55a5" stroke-width="3.4"/>
<text x="1067" y="1561.8" font-size="32" fill="#1a1a1a">19-HIT</text>
<line x1="1202.2" y1="1550" x2="1242.4" y2="1550" stroke="#62c4c4" stroke-width="3.4"/>
<text x="1251.5" y="1558.8" font-size="32" fill="#1a1a1a">19-HIT</text>
<text x="1354" y="1558.8" font-size="32" fill="#1a1a1a">+</text>
<text x="1374" y="1558.8" font-size="32" font-style="italic" fill="#1a1a1a">CD28</text>
<text x="1468.5" y="1558.8" font-size="32" fill="#1a1a1a">KO</text>
<line x1="1594" y1="1071" x2="1594" y2="1453.8" stroke="#1a1a1a" stroke-width="2"/>
<line x1="1577" y1="1452.8" x2="1850" y2="1452.8" stroke="#1a1a1a" stroke-width="2"/>
<line x1="1577" y1="1452.8" x2="1594" y2="1452.8" stroke="#1a1a1a" stroke-width="2"/>
<text x="1574" y="1463.8" font-size="32" text-anchor="end" fill="#1a1a1a">0</text>
<line x1="1577" y1="1376.6" x2="1594" y2="1376.6" stroke="#1a1a1a" stroke-width="2"/>
<text x="1574" y="1387.6" font-size="32" text-anchor="end" fill="#1a1a1a">20</text>
<line x1="1577" y1="1300.4" x2="1594" y2="1300.4" stroke="#1a1a1a" stroke-width="2"/>
<text x="1574" y="1311.4" font-size="32" text-anchor="end" fill="#1a1a1a">40</text>
<line x1="1577" y1="1224.2" x2="1594" y2="1224.2" stroke="#1a1a1a" stroke-width="2"/>
<text x="1574" y="1235.2" font-size="32" text-anchor="end" fill="#1a1a1a">60</text>
<line x1="1577" y1="1148.0" x2="1594" y2="1148.0" stroke="#1a1a1a" stroke-width="2"/>
<text x="1574" y="1159.0" font-size="32" text-anchor="end" fill="#1a1a1a">80</text>
<line x1="1577" y1="1071.8" x2="1594" y2="1071.8" stroke="#1a1a1a" stroke-width="2"/>
<text x="1574" y="1082.8" font-size="32" text-anchor="end" fill="#1a1a1a">100</text>
<line x1="1720.5" y1="1452.8" x2="1720.5" y2="1468.3" stroke="#1a1a1a" stroke-width="2"/>
<text x="1521" y="1272.8" font-size="33" text-anchor="middle" transform="rotate(-90 1521 1272.8)" fill="#1a1a1a">%CD28 Knockout</text>
<path d="M1679,1452.8 V1189 H1762.4 V1452.8" fill="none" stroke="#62c4c4" stroke-width="6"/>
<circle cx="1720.8" cy="1111.4" r="8.7" fill="#62c4c4" stroke="#14292a" stroke-width="1.8"/>
<circle cx="1720.8" cy="1129.8" r="8.7" fill="#62c4c4" stroke="#14292a" stroke-width="1.8"/>
<circle cx="1712.3" cy="1160.4" r="8.7" fill="#62c4c4" stroke="#14292a" stroke-width="1.8"/>
<circle cx="1733.3" cy="1156.8" r="8.7" fill="#62c4c4" stroke="#14292a" stroke-width="1.8"/>
<circle cx="1720.8" cy="1175.2" r="8.7" fill="#62c4c4" stroke="#14292a" stroke-width="1.8"/>
<circle cx="1729" cy="1206.3" r="8.7" fill="#62c4c4" stroke="#14292a" stroke-width="1.8"/>
<circle cx="1716.2" cy="1217.3" r="8.7" fill="#62c4c4" stroke="#14292a" stroke-width="1.8"/>
<circle cx="1720.8" cy="1244" r="8.7" fill="#62c4c4" stroke="#14292a" stroke-width="1.8"/>
<circle cx="1720.8" cy="1336" r="8.7" fill="#62c4c4" stroke="#14292a" stroke-width="1.8"/>
<text x="1594" y="1498.7" font-size="32.5" fill="#1a1a1a">19-HIT</text>
<text x="1699.5" y="1498.7" font-size="32.5" fill="#1a1a1a">+</text>
<text x="1720.5" y="1498.7" font-size="32.5" font-style="italic" fill="#1a1a1a">CD28</text>
<text x="1813" y="1498.7" font-size="32.5" fill="#1a1a1a">KO</text>
<text x="2.5" y="1653.5" font-size="40" font-weight="bold" fill="#1a1a1a">e</text>
<path d="M60.5,1793.0 L90.0,1792.5 L102.5,1790.0 L115.0,1785.0 L125.0,1780.0 L135.0,1773.8 L145.0,1768.8 L155.0,1761.2 L162.5,1752.5 L167.5,1742.5 L172.5,1727.5 L177.5,1712.5 L182.5,1702.5 L186.2,1692.5 L190.0,1680.0 L193.0,1672.5 L196.2,1671.2 L200.0,1683.8 L203.8,1678.8 L207.0,1668.8 L210.5,1660.0 L213.8,1667.5 L217.5,1673.8 L221.2,1670.0 L224.5,1667.5 L227.5,1677.5 L230.0,1692.5 L232.5,1697.5 L235.5,1687.5 L238.8,1688.8 L242.5,1696.2 L246.2,1700.0 L250.0,1706.2 L253.0,1712.5 L256.2,1710.0 L260.0,1716.2 L265.0,1722.5 L270.0,1732.5 L273.8,1742.5 L277.5,1750.0 L281.2,1751.2 L285.0,1746.2 L288.8,1745.0 L292.5,1748.8 L297.5,1748.8 L301.2,1746.2 L306.2,1746.2 L310.0,1740.0 L313.8,1732.5 L317.5,1727.5 L321.2,1716.2 L325.0,1705.0 L330.0,1695.0 L335.0,1687.5 L338.8,1686.2 L342.5,1675.0 L346.2,1666.2 L349.5,1665.0 L352.5,1673.8 L356.2,1685.0 L360.0,1692.5 L363.8,1705.0 L367.5,1717.5 L371.2,1727.5 L376.2,1737.5 L380.0,1750.0 L385.0,1765.0 L390.0,1776.2 L395.0,1783.8 L401.2,1789.5 L410.0,1792.5 L420.0,1793.2 L480.5,1793.2 L480.5,1793.0 L60.5,1793.0 Z" fill="#f2c24a" fill-opacity="0.5" stroke="none"/>
<path d="M60.5,1793.0 L90.0,1792.5 L102.5,1790.0 L115.0,1785.0 L125.0,1780.0 L135.0,1773.8 L145.0,1768.8 L155.0,1761.2 L162.5,1752.5 L167.5,1742.5 L172.5,1727.5 L177.5,1712.5 L182.5,1702.5 L186.2,1692.5 L190.0,1680.0 L193.0,1672.5 L196.2,1671.2 L200.0,1683.8 L203.8,1678.8 L207.0,1668.8 L210.5,1660.0 L213.8,1667.5 L217.5,1673.8 L221.2,1670.0 L224.5,1667.5 L227.5,1677.5 L230.0,1692.5 L232.5,1697.5 L235.5,1687.5 L238.8,1688.8 L242.5,1696.2 L246.2,1700.0 L250.0,1706.2 L253.0,1712.5 L256.2,1710.0 L260.0,1716.2 L265.0,1722.5 L270.0,1732.5 L273.8,1742.5 L277.5,1750.0 L281.2,1751.2 L285.0,1746.2 L288.8,1745.0 L292.5,1748.8 L297.5,1748.8 L301.2,1746.2 L306.2,1746.2 L310.0,1740.0 L313.8,1732.5 L317.5,1727.5 L321.2,1716.2 L325.0,1705.0 L330.0,1695.0 L335.0,1687.5 L338.8,1686.2 L342.5,1675.0 L346.2,1666.2 L349.5,1665.0 L352.5,1673.8 L356.2,1685.0 L360.0,1692.5 L363.8,1705.0 L367.5,1717.5 L371.2,1727.5 L376.2,1737.5 L380.0,1750.0 L385.0,1765.0 L390.0,1776.2 L395.0,1783.8 L401.2,1789.5 L410.0,1792.5 L420.0,1793.2 L480.5,1793.2" fill="none" stroke="#f2bb26" stroke-width="5.5" stroke-linejoin="round" stroke-linecap="butt"/>
<path d="M60.5,1869.5 L77.5,1868.8 L90.0,1865.0 L100.0,1860.0 L110.0,1856.2 L120.0,1852.5 L127.5,1842.5 L135.0,1833.8 L142.5,1823.8 L148.8,1817.5 L155.0,1805.0 L160.0,1795.0 L165.0,1785.0 L170.0,1770.0 L175.0,1751.2 L178.8,1750.0 L183.8,1747.5 L187.5,1737.5 L191.2,1735.0 L195.0,1738.8 L198.8,1745.0 L202.5,1755.0 L206.2,1762.5 L210.0,1772.5 L215.0,1780.0 L218.8,1790.0 L222.5,1800.0 L226.2,1810.0 L230.0,1813.8 L233.8,1812.5 L237.5,1815.0 L241.2,1818.8 L245.0,1813.8 L247.5,1811.2 L251.2,1813.8 L255.0,1821.2 L260.0,1830.0 L265.0,1837.5 L272.5,1846.2 L280.0,1855.0 L287.5,1861.2 L295.0,1865.0 L305.0,1868.0 L320.0,1869.5 L480.5,1869.5 L480.5,1869.5 L60.5,1869.5 Z" fill="#7fcaca" fill-opacity="0.5" stroke="none"/>
<path d="M60.5,1869.5 L77.5,1868.8 L90.0,1865.0 L100.0,1860.0 L110.0,1856.2 L120.0,1852.5 L127.5,1842.5 L135.0,1833.8 L142.5,1823.8 L148.8,1817.5 L155.0,1805.0 L160.0,1795.0 L165.0,1785.0 L170.0,1770.0 L175.0,1751.2 L178.8,1750.0 L183.8,1747.5 L187.5,1737.5 L191.2,1735.0 L195.0,1738.8 L198.8,1745.0 L202.5,1755.0 L206.2,1762.5 L210.0,1772.5 L215.0,1780.0 L218.8,1790.0 L222.5,1800.0 L226.2,1810.0 L230.0,1813.8 L233.8,1812.5 L237.5,1815.0 L241.2,1818.8 L245.0,1813.8 L247.5,1811.2 L251.2,1813.8 L255.0,1821.2 L260.0,1830.0 L265.0,1837.5 L272.5,1846.2 L280.0,1855.0 L287.5,1861.2 L295.0,1865.0 L305.0,1868.0 L320.0,1869.5 L480.5,1869.5" fill="none" stroke="#62c4c4" stroke-width="5.5" stroke-linejoin="round" stroke-linecap="butt"/>
<path d="M60.5,1945.8 L140.0,1945.8 L160.0,1944.5 L175.0,1942.5 L187.5,1940.0 L197.5,1935.0 L205.0,1928.8 L212.5,1920.0 L218.8,1910.0 L223.8,1898.8 L228.8,1890.0 L233.8,1877.5 L238.8,1862.5 L242.5,1850.0 L246.2,1840.0 L249.5,1837.5 L252.5,1838.8 L256.2,1827.5 L260.0,1817.5 L265.0,1808.8 L268.8,1817.5 L272.5,1822.5 L276.2,1835.0 L280.0,1847.5 L283.8,1860.0 L287.5,1872.5 L291.2,1885.0 L295.0,1897.5 L298.8,1910.0 L302.5,1921.2 L307.5,1931.2 L313.8,1938.8 L322.5,1943.0 L335.0,1945.5 L480.5,1945.8 L480.5,1945.8 L60.5,1945.8 Z" fill="#3a3aa0" fill-opacity="0.5" stroke="none"/>
<path d="M60.5,1945.8 L140.0,1945.8 L160.0,1944.5 L175.0,1942.5 L187.5,1940.0 L197.5,1935.0 L205.0,1928.8 L212.5,1920.0 L218.8,1910.0 L223.8,1898.8 L228.8,1890.0 L233.8,1877.5 L238.8,1862.5 L242.5,1850.0 L246.2,1840.0 L249.5,1837.5 L252.5,1838.8 L256.2,1827.5 L260.0,1817.5 L265.0,1808.8 L268.8,1817.5 L272.5,1822.5 L276.2,1835.0 L280.0,1847.5 L283.8,1860.0 L287.5,1872.5 L291.2,1885.0 L295.0,1897.5 L298.8,1910.0 L302.5,1921.2 L307.5,1931.2 L313.8,1938.8 L322.5,1943.0 L335.0,1945.5 L480.5,1945.8" fill="none" stroke="#2f4299" stroke-width="5.5" stroke-linejoin="round" stroke-linecap="butt"/>
<path d="M63.2,2017.0 L72.5,2015.8 L80.0,2012.5 L87.5,2007.5 L93.8,2001.2 L100.0,1996.2 L103.8,1987.5 L107.5,1978.8 L111.2,1973.8 L115.0,1966.2 L118.8,1955.0 L122.5,1945.0 L126.2,1935.0 L130.0,1928.8 L133.8,1917.5 L136.2,1911.2 L140.0,1908.8 L143.8,1903.8 L147.5,1898.8 L151.2,1888.8 L155.0,1885.0 L157.5,1881.2 L160.5,1876.2 L163.8,1882.5 L167.5,1886.2 L170.0,1891.2 L173.8,1902.5 L177.5,1912.5 L181.2,1927.5 L185.0,1945.0 L188.8,1962.5 L192.5,1980.0 L196.2,1995.0 L200.0,2006.2 L205.0,2013.8 L212.5,2017.0 L227.5,2017.5" fill="none" stroke="#000" stroke-width="3.6" stroke-linejoin="round" stroke-linecap="butt"/>
<rect x="63.3" y="1636.3" width="417.2" height="381.2" fill="none" stroke="#111" stroke-width="2"/>
<clipPath id="cle"><rect x="62" y="2012" width="420" height="14"/></clipPath><g clip-path="url(#cle)">
<line x1="180.8" y1="2018.5" x2="180.8" y2="2027.5" stroke="#1a1a1a" stroke-width="1.9"/>
<line x1="206.4" y1="2018.5" x2="206.4" y2="2023.0" stroke="#1a1a1a" stroke-width="1.4249999999999998"/>
<line x1="221.3" y1="2018.5" x2="221.3" y2="2023.0" stroke="#1a1a1a" stroke-width="1.4249999999999998"/>
<line x1="231.9" y1="2018.5" x2="231.9" y2="2023.0" stroke="#1a1a1a" stroke-width="1.4249999999999998"/>
<line x1="240.1" y1="2018.5" x2="240.1" y2="2023.0" stroke="#1a1a1a" stroke-width="1.4249999999999998"/>
<line x1="246.9" y1="2018.5" x2="246.9" y2="2023.0" stroke="#1a1a1a" stroke-width="1.4249999999999998"/>
<line x1="252.5" y1="2018.5" x2="252.5" y2="2023.0" stroke="#1a1a1a" stroke-width="1.4249999999999998"/>
<line x1="257.5" y1="2018.5" x2="257.5" y2="2023.0" stroke="#1a1a1a" stroke-width="1.4249999999999998"/>
<line x1="261.8" y1="2018.5" x2="261.8" y2="2023.0" stroke="#1a1a1a" stroke-width="1.4249999999999998"/>
<line x1="265.7" y1="2018.5" x2="265.7" y2="2027.5" stroke="#1a1a1a" stroke-width="1.9"/>
<line x1="290.5" y1="2018.5" x2="290.5" y2="2023.0" stroke="#1a1a1a" stroke-width="1.4249999999999998"/>
<line x1="305.0" y1="2018.5" x2="305.0" y2="2023.0" stroke="#1a1a1a" stroke-width="1.4249999999999998"/>
<line x1="315.2" y1="2018.5" x2="315.2" y2="2023.0" stroke="#1a1a1a" stroke-width="1.4249999999999998"/>
<line x1="323.2" y1="2018.5" x2="323.2" y2="2023.0" stroke="#1a1a1a" stroke-width="1.4249999999999998"/>
<line x1="329.7" y1="2018.5" x2="329.7" y2="2023.0" stroke="#1a1a1a" stroke-width="1.4249999999999998"/>
<line x1="335.3" y1="2018.5" x2="335.3" y2="2023.0" stroke="#1a1a1a" stroke-width="1.4249999999999998"/>
<line x1="340.0" y1="2018.5" x2="340.0" y2="2023.0" stroke="#1a1a1a" stroke-width="1.4249999999999998"/>
<line x1="344.2" y1="2018.5" x2="344.2" y2="2023.0" stroke="#1a1a1a" stroke-width="1.4249999999999998"/>
<line x1="348" y1="2018.5" x2="348" y2="2027.5" stroke="#1a1a1a" stroke-width="1.9"/>
<line x1="371.9" y1="2018.5" x2="371.9" y2="2023.0" stroke="#1a1a1a" stroke-width="1.4249999999999998"/>
<line x1="385.9" y1="2018.5" x2="385.9" y2="2023.0" stroke="#1a1a1a" stroke-width="1.4249999999999998"/>
<line x1="395.9" y1="2018.5" x2="395.9" y2="2023.0" stroke="#1a1a1a" stroke-width="1.4249999999999998"/>
<line x1="403.6" y1="2018.5" x2="403.6" y2="2023.0" stroke="#1a1a1a" stroke-width="1.4249999999999998"/>
<line x1="409.9" y1="2018.5" x2="409.9" y2="2023.0" stroke="#1a1a1a" stroke-width="1.4249999999999998"/>
<line x1="415.2" y1="2018.5" x2="415.2" y2="2023.0" stroke="#1a1a1a" stroke-width="1.4249999999999998"/>
<line x1="419.8" y1="2018.5" x2="419.8" y2="2023.0" stroke="#1a1a1a" stroke-width="1.4249999999999998"/>
<line x1="423.9" y1="2018.5" x2="423.9" y2="2023.0" stroke="#1a1a1a" stroke-width="1.4249999999999998"/>
<line x1="427.5" y1="2018.5" x2="427.5" y2="2027.5" stroke="#1a1a1a" stroke-width="1.9"/>
<line x1="451.4" y1="2018.5" x2="451.4" y2="2023.0" stroke="#1a1a1a" stroke-width="1.4249999999999998"/>
<line x1="465.4" y1="2018.5" x2="465.4" y2="2023.0" stroke="#1a1a1a" stroke-width="1.4249999999999998"/>
<line x1="475.4" y1="2018.5" x2="475.4" y2="2023.0" stroke="#1a1a1a" stroke-width="1.4249999999999998"/>
<line x1="483.1" y1="2018.5" x2="483.1" y2="2023.0" stroke="#1a1a1a" stroke-width="1.4249999999999998"/>
<line x1="489.4" y1="2018.5" x2="489.4" y2="2023.0" stroke="#1a1a1a" stroke-width="1.4249999999999998"/>
<line x1="494.7" y1="2018.5" x2="494.7" y2="2023.0" stroke="#1a1a1a" stroke-width="1.4249999999999998"/>
<line x1="499.3" y1="2018.5" x2="499.3" y2="2023.0" stroke="#1a1a1a" stroke-width="1.4249999999999998"/>
<line x1="503.4" y1="2018.5" x2="503.4" y2="2023.0" stroke="#1a1a1a" stroke-width="1.4249999999999998"/>
<line x1="507" y1="2018.5" x2="507" y2="2027.5" stroke="#1a1a1a" stroke-width="1.9"/>
<line x1="132.9" y1="2018.5" x2="132.9" y2="2023.0" stroke="#1a1a1a" stroke-width="1.4"/>
<line x1="122.1" y1="2018.5" x2="122.1" y2="2023.0" stroke="#1a1a1a" stroke-width="1.4"/>
<line x1="138.3" y1="2018.5" x2="138.3" y2="2023.0" stroke="#1a1a1a" stroke-width="1.4"/>
<line x1="116.7" y1="2018.5" x2="116.7" y2="2023.0" stroke="#1a1a1a" stroke-width="1.4"/>
<line x1="143.6" y1="2018.5" x2="143.6" y2="2023.0" stroke="#1a1a1a" stroke-width="1.4"/>
<line x1="111.4" y1="2018.5" x2="111.4" y2="2023.0" stroke="#1a1a1a" stroke-width="1.4"/>
<line x1="149.0" y1="2018.5" x2="149.0" y2="2023.0" stroke="#1a1a1a" stroke-width="1.4"/>
<line x1="106.0" y1="2018.5" x2="106.0" y2="2023.0" stroke="#1a1a1a" stroke-width="1.4"/>
<line x1="154.4" y1="2018.5" x2="154.4" y2="2023.0" stroke="#1a1a1a" stroke-width="1.4"/>
<line x1="100.6" y1="2018.5" x2="100.6" y2="2023.0" stroke="#1a1a1a" stroke-width="1.4"/>
<line x1="159.8" y1="2018.5" x2="159.8" y2="2023.0" stroke="#1a1a1a" stroke-width="1.4"/>
<line x1="95.2" y1="2018.5" x2="95.2" y2="2023.0" stroke="#1a1a1a" stroke-width="1.4"/>
<line x1="165.2" y1="2018.5" x2="165.2" y2="2023.0" stroke="#1a1a1a" stroke-width="1.4"/>
<line x1="89.8" y1="2018.5" x2="89.8" y2="2023.0" stroke="#1a1a1a" stroke-width="1.4"/>
<line x1="170.5" y1="2018.5" x2="170.5" y2="2023.0" stroke="#1a1a1a" stroke-width="1.4"/>
<line x1="84.5" y1="2018.5" x2="84.5" y2="2023.0" stroke="#1a1a1a" stroke-width="1.4"/>
<line x1="175.9" y1="2018.5" x2="175.9" y2="2023.0" stroke="#1a1a1a" stroke-width="1.4"/>
<line x1="79.1" y1="2018.5" x2="79.1" y2="2023.0" stroke="#1a1a1a" stroke-width="1.4"/>
<line x1="120.5" y1="2018.5" x2="120.5" y2="2026.5" stroke="#1a1a1a" stroke-width="1.6"/>
<line x1="124.5" y1="2018.5" x2="124.5" y2="2026.5" stroke="#1a1a1a" stroke-width="1.6"/>
<line x1="126.5" y1="2018.5" x2="126.5" y2="2026.5" stroke="#1a1a1a" stroke-width="1.6"/>
<line x1="128.5" y1="2018.5" x2="128.5" y2="2026.5" stroke="#1a1a1a" stroke-width="1.6"/>
<line x1="130.5" y1="2018.5" x2="130.5" y2="2026.5" stroke="#1a1a1a" stroke-width="1.6"/>
<line x1="134.5" y1="2018.5" x2="134.5" y2="2026.5" stroke="#1a1a1a" stroke-width="1.6"/>
<line x1="75.5" y1="2018.5" x2="75.5" y2="2027.5" stroke="#1a1a1a" stroke-width="1.9"/>
<line x1="65" y1="2018.5" x2="65" y2="2022.0" stroke="#1a1a1a" stroke-width="1.4"/>
<line x1="68" y1="2018.5" x2="68" y2="2022.0" stroke="#1a1a1a" stroke-width="1.4"/>
<line x1="71" y1="2018.5" x2="71" y2="2022.0" stroke="#1a1a1a" stroke-width="1.4"/>
</g>
<text x="61.5" y="2043.8" font-size="20" fill="#1a1a1a">10</text>
<text x="83.0" y="2036.5" font-size="14.8" fill="#1a1a1a">-2</text>
<text x="165.5" y="2043.8" font-size="20" fill="#1a1a1a">10</text>
<text x="187.0" y="2036.5" font-size="14.8" fill="#1a1a1a">2</text>
<text x="250.5" y="2043.8" font-size="20" fill="#1a1a1a">10</text>
<text x="272.0" y="2036.5" font-size="14.8" fill="#1a1a1a">3</text>
<text x="334.5" y="2043.8" font-size="20" fill="#1a1a1a">10</text>
<text x="356.0" y="2036.5" font-size="14.8" fill="#1a1a1a">4</text>
<text x="414.5" y="2043.8" font-size="20" fill="#1a1a1a">10</text>
<text x="436.0" y="2036.5" font-size="14.8" fill="#1a1a1a">5</text>
<text x="128.3" y="2043.8" font-size="20" text-anchor="middle" fill="#1a1a1a">0</text>
<line x1="110.4" y1="2069.3" x2="170.8" y2="2069.3" stroke="#1a1a1a" stroke-width="2"/>
<path d="M183.4,2069.3 L162.4,2061.8 L168.28,2069.3 L162.4,2076.8 Z" fill="#111"/>
<text x="185" y="2080.3" font-size="33" fill="#1a1a1a">CD28-BB515</text>
<circle cx="142" cy="2135.1" r="9" fill="#3f5aa8" stroke="#111" stroke-width="1.8"/>
<text x="159.5" y="2142.6" font-size="32.5" fill="#1a1a1a">19-HIT</text>
<circle cx="282.4" cy="2135.1" r="9" fill="#62c4c4" stroke="#111" stroke-width="1.8"/>
<text x="299.5" y="2142.6" font-size="32.5" fill="#1a1a1a">19-HIT+</text>
<text x="418.5" y="2142.6" font-size="32.5" font-style="italic" fill="#1a1a1a">CD28</text>
<text x="514" y="2142.6" font-size="32.5" fill="#1a1a1a">KO</text>
<circle cx="139.8" cy="2180.3" r="9" fill="#f2bb26" stroke="#111" stroke-width="1.8"/>
<text x="157" y="2188.2" font-size="32.5" fill="#1a1a1a">19-HIT+</text>
<text x="275" y="2188.2" font-size="32.5" font-style="italic" fill="#1a1a1a">CD28</text>
<text x="360.5" y="2188.2" font-size="32.5" fill="#1a1a1a">KO</text>
<text x="417.5" y="2188.2" font-size="32.5" fill="#1a1a1a">+</text>
<text x="435.5" y="2188.2" font-size="31" fill="#1a1a1a" font-family="Liberation Serif, serif">Δ</text>
<text x="456" y="2188.2" font-size="32.5" fill="#1a1a1a">CD28</text>
<line x1="615" y1="1638" x2="615" y2="2021.3" stroke="#1a1a1a" stroke-width="2"/>
<line x1="598.8" y1="2020.3" x2="865.5" y2="2020.3" stroke="#1a1a1a" stroke-width="2"/>
<line x1="598.8" y1="1638.8" x2="615" y2="1638.8" stroke="#1a1a1a" stroke-width="2"/>
<text x="586" y="1661" font-size="33" text-anchor="end" fill="#1a1a1a">10</text>
<text x="586.5" y="1643.5" font-size="19" fill="#1a1a1a">4</text>
<line x1="598.8" y1="1829.5" x2="615" y2="1829.5" stroke="#1a1a1a" stroke-width="2"/>
<text x="586" y="1847" font-size="33" text-anchor="end" fill="#1a1a1a">10</text>
<text x="586.5" y="1829.5" font-size="19" fill="#1a1a1a">3</text>
<line x1="598.8" y1="2020.3" x2="615" y2="2020.3" stroke="#1a1a1a" stroke-width="2"/>
<text x="586" y="2037.5" font-size="33" text-anchor="end" fill="#1a1a1a">10</text>
<text x="586.5" y="2020.0" font-size="19" fill="#1a1a1a">2</text>
<line x1="664.5" y1="2020.3" x2="664.5" y2="2026.8" stroke="#1a1a1a" stroke-width="2"/>
<line x1="739.3" y1="2020.3" x2="739.3" y2="2026.8" stroke="#1a1a1a" stroke-width="2"/>
<line x1="814.3" y1="2020.3" x2="814.3" y2="2026.8" stroke="#1a1a1a" stroke-width="2"/>
<text x="542" y="1840" font-size="33" text-anchor="middle" transform="rotate(-90 542 1840)" fill="#1a1a1a">CD28 MFI</text>
<path d="M664.5,1812 L739.3,1883 L814.3,1690.8" fill="none" stroke="#111" stroke-width="2" stroke-dasharray="7 3.5"/>
<path d="M664.5,1830.5 L739.3,1910 L814.3,1747" fill="none" stroke="#111" stroke-width="2" stroke-dasharray="7 3.5"/>
<path d="M664.5,1853 L739.3,1913 L814.3,1750" fill="none" stroke="#111" stroke-width="2" stroke-dasharray="7 3.5"/>
<path d="M664.5,1860.8 L739.3,1919.3 L814.3,1757" fill="none" stroke="#111" stroke-width="2" stroke-dasharray="7 3.5"/>
<circle cx="664.5" cy="1812" r="9.2" fill="#3f5cb4" stroke="#111" stroke-width="1.8"/>
<circle cx="664.5" cy="1830.5" r="9.2" fill="#3f5cb4" stroke="#111" stroke-width="1.8"/>
<circle cx="664.5" cy="1853" r="9.2" fill="#3f5cb4" stroke="#111" stroke-width="1.8"/>
<circle cx="664.5" cy="1860.8" r="9.2" fill="#3f5cb4" stroke="#111" stroke-width="1.8"/>
<circle cx="739.3" cy="1883" r="9.2" fill="#62c4c4" stroke="#111" stroke-width="1.8"/>
<circle cx="739.3" cy="1910" r="9.2" fill="#62c4c4" stroke="#111" stroke-width="1.8"/>
<circle cx="739.3" cy="1913" r="9.2" fill="#62c4c4" stroke="#111" stroke-width="1.8"/>
<circle cx="739.3" cy="1919.3" r="9.2" fill="#62c4c4" stroke="#111" stroke-width="1.8"/>
<circle cx="814.3" cy="1690.8" r="9.2" fill="#f2bb26" stroke="#111" stroke-width="1.8"/>
<circle cx="814.3" cy="1747" r="9.2" fill="#f2bb26" stroke="#111" stroke-width="1.8"/>
<circle cx="814.3" cy="1750" r="9.2" fill="#f2bb26" stroke="#111" stroke-width="1.8"/>
<circle cx="814.3" cy="1757" r="9.2" fill="#f2bb26" stroke="#111" stroke-width="1.8"/>
<line x1="625" y1="1944.5" x2="864" y2="1944.5" stroke="#111" stroke-width="3.4" stroke-dasharray="0.1 11.3" stroke-linecap="round"/>
<text x="763" y="1972.5" font-size="29.2" fill="#1a1a1a">Unstained</text>
<text x="968" y="1651" font-size="40" font-weight="bold" fill="#1a1a1a">f</text>
<text x="1088.5" y="1668.3" font-size="32" text-anchor="middle" fill="#1a1a1a">IL-2</text>
<text x="1339.7" y="1668.3" font-size="32" text-anchor="middle" fill="#1a1a1a">IL-13</text>
<line x1="1024.8" y1="1690" x2="1024.8" y2="2013.8" stroke="#1a1a1a" stroke-width="2"/>
<line x1="1011.8" y1="2010.8" x2="1153.5" y2="2010.8" stroke="#1a1a1a" stroke-width="2"/>
<line x1="1011.8" y1="1691" x2="1024.8" y2="1691" stroke="#1a1a1a" stroke-width="2"/>
<text x="1003" y="1700.5" font-size="33" text-anchor="end" fill="#1a1a1a">1.5</text>
<line x1="1011.8" y1="1797.6" x2="1024.8" y2="1797.6" stroke="#1a1a1a" stroke-width="2"/>
<text x="1003" y="1807.1" font-size="33" text-anchor="end" fill="#1a1a1a">1.0</text>
<line x1="1011.8" y1="1903.9" x2="1024.8" y2="1903.9" stroke="#1a1a1a" stroke-width="2"/>
<text x="1003" y="1913.4" font-size="33" text-anchor="end" fill="#1a1a1a">0.5</text>
<line x1="1011.8" y1="2010.8" x2="1024.8" y2="2010.8" stroke="#1a1a1a" stroke-width="2"/>
<text x="994" y="2020.3" font-size="33" text-anchor="end" fill="#1a1a1a">0</text>
<path d="M1045.5,2010.8 V1925.2 H1081.4 V2010.8" fill="none" stroke="#4a68b0" stroke-width="1.4"/>
<path d="M1102.4,2010.8 V1789 H1138 V2010.8" fill="none" stroke="#de463f" stroke-width="1.4"/>
<line x1="1063.8" y1="1912.7" x2="1063.8" y2="1925.2" stroke="#1a1a1a" stroke-width="1.8"/>
<line x1="1054.8" y1="1912.7" x2="1072.8" y2="1912.7" stroke="#1a1a1a" stroke-width="1.8"/>
<circle cx="1063.8" cy="1894.2" r="9.2" fill="#3f5bab" stroke="#111" stroke-width="1.8"/>
<circle cx="1053.3" cy="1924.6" r="9.2" fill="#3f5bab" stroke="#111" stroke-width="1.8"/>
<circle cx="1072.6" cy="1931.5" r="9.2" fill="#3f5bab" stroke="#111" stroke-width="1.8"/>
<circle cx="1063.8" cy="1943.7" r="9.2" fill="#3f5bab" stroke="#111" stroke-width="1.8"/>
<circle cx="1111.3" cy="1786.5" r="9.2" fill="#ee2e24" stroke="#111" stroke-width="1.8"/>
<circle cx="1129.2" cy="1776" r="9.2" fill="#ee2e24" stroke="#111" stroke-width="1.8"/>
<circle cx="1111.3" cy="1796.7" r="9.2" fill="#ee2e24" stroke="#111" stroke-width="1.8"/>
<circle cx="1129.2" cy="1789" r="9.2" fill="#ee2e24" stroke="#111" stroke-width="1.8"/>
<text x="1087.8" y="1707" font-size="18.2" text-anchor="middle" fill="#333">&lt;0.0001</text>
<line x1="1050.5" y1="1713.9" x2="1118.2" y2="1713.9" stroke="#1a1a1a" stroke-width="1.8"/>
<text x="944.5" y="1853" font-size="33" text-anchor="middle" transform="rotate(-90 944.5 1853)" fill="#1a1a1a">pg/mL (x10<tspan dy="-11.1" font-size="19.1">4</tspan><tspan dy="11.1">)</tspan></text>
<line x1="1277.8" y1="1687.5" x2="1277.8" y2="2009.9" stroke="#1a1a1a" stroke-width="2"/>
<line x1="1265" y1="2008.9" x2="1406" y2="2008.9" stroke="#1a1a1a" stroke-width="2"/>
<line x1="1265" y1="1688.2" x2="1277.8" y2="1688.2" stroke="#1a1a1a" stroke-width="2"/>
<text x="1255.5" y="1697.7" font-size="33" text-anchor="end" fill="#1a1a1a">2.0</text>
<line x1="1265" y1="1768.6" x2="1277.8" y2="1768.6" stroke="#1a1a1a" stroke-width="2"/>
<text x="1255.5" y="1778.1" font-size="33" text-anchor="end" fill="#1a1a1a">1.5</text>
<line x1="1265" y1="1848.7" x2="1277.8" y2="1848.7" stroke="#1a1a1a" stroke-width="2"/>
<text x="1255.5" y="1858.2" font-size="33" text-anchor="end" fill="#1a1a1a">1.0</text>
<line x1="1265" y1="1928.8" x2="1277.8" y2="1928.8" stroke="#1a1a1a" stroke-width="2"/>
<text x="1255.5" y="1938.3" font-size="33" text-anchor="end" fill="#1a1a1a">0.5</text>
<line x1="1265" y1="2008.9" x2="1277.8" y2="2008.9" stroke="#1a1a1a" stroke-width="2"/>
<text x="1258.5" y="2018.4" font-size="33" text-anchor="end" fill="#1a1a1a">0</text>
<path d="M1299,2008.9 V1912 H1335 V2008.9" fill="none" stroke="#4a68b0" stroke-width="1.4"/>
<path d="M1355.7,2008.9 V1775.2 H1391.6 V2008.9" fill="none" stroke="#de463f" stroke-width="1.4"/>
<line x1="1317" y1="1892.9" x2="1317" y2="1912" stroke="#1a1a1a" stroke-width="1.8"/>
<line x1="1308" y1="1892.9" x2="1326" y2="1892.9" stroke="#1a1a1a" stroke-width="1.8"/>
<line x1="1373.1" y1="1757.5" x2="1373.1" y2="1775" stroke="#1a1a1a" stroke-width="1.8"/>
<line x1="1367.1" y1="1757.5" x2="1379.1" y2="1757.5" stroke="#1a1a1a" stroke-width="1.8"/>
<circle cx="1317" cy="1859.2" r="9.2" fill="#3f5bab" stroke="#111" stroke-width="1.8"/>
<circle cx="1317" cy="1913.3" r="9.2" fill="#3f5bab" stroke="#111" stroke-width="1.8"/>
<circle cx="1307.9" cy="1934.8" r="9.2" fill="#3f5bab" stroke="#111" stroke-width="1.8"/>
<circle cx="1326.1" cy="1929.9" r="9.2" fill="#3f5bab" stroke="#111" stroke-width="1.8"/>
<circle cx="1373.1" cy="1742" r="9.2" fill="#ee2e24" stroke="#111" stroke-width="1.8"/>
<circle cx="1364" cy="1765.5" r="9.2" fill="#ee2e24" stroke="#111" stroke-width="1.8"/>
<circle cx="1382.7" cy="1765.5" r="9.2" fill="#ee2e24" stroke="#111" stroke-width="1.8"/>
<circle cx="1373.1" cy="1815.5" r="9.2" fill="#ee2e24" stroke="#111" stroke-width="1.8"/>
<text x="1344" y="1707" font-size="18.2" text-anchor="middle" fill="#333">0.0011</text>
<line x1="1317" y1="1713.9" x2="1371.7" y2="1713.9" stroke="#1a1a1a" stroke-width="1.8"/>
<text x="1194" y="1858" font-size="33" text-anchor="middle" transform="rotate(-90 1194 1858)" fill="#1a1a1a">pg/mL (x10<tspan dy="-11.1" font-size="19.1">2</tspan><tspan dy="11.1">)</tspan></text>
<circle cx="1067.6" cy="2078.2" r="9.4" fill="#3f5bab" stroke="#111" stroke-width="1.8"/>
<text x="1088.5" y="2087.9" font-size="33" fill="#1a1a1a">19-HIT</text>
<circle cx="1213.6" cy="2078.2" r="9.4" fill="#ee2e24" stroke="#111" stroke-width="1.8"/>
<text x="1234.3" y="2087.9" font-size="33" fill="#1a1a1a">19-HIT<tspan dy="-11.1" font-size="19.1">80BB</tspan></text>
<text x="1442" y="1651" font-size="40" font-weight="bold" fill="#1a1a1a">g</text>
<line x1="1612" y1="1692.5" x2="1612" y2="2003.2" stroke="#1a1a1a" stroke-width="2"/>
<line x1="1600.9" y1="2002.2" x2="1860.5" y2="2002.2" stroke="#1a1a1a" stroke-width="2"/>
<line x1="1600.9" y1="1693.2" x2="1612" y2="1693.2" stroke="#1a1a1a" stroke-width="2"/>
<text x="1591.5" y="1704.7" font-size="33" text-anchor="end" fill="#1a1a1a">2.5</text>
<line x1="1600.9" y1="1755" x2="1612" y2="1755" stroke="#1a1a1a" stroke-width="2"/>
<text x="1591.5" y="1766.5" font-size="33" text-anchor="end" fill="#1a1a1a">2.0</text>
<line x1="1600.9" y1="1816.9" x2="1612" y2="1816.9" stroke="#1a1a1a" stroke-width="2"/>
<text x="1591.5" y="1828.4" font-size="33" text-anchor="end" fill="#1a1a1a">1.5</text>
<line x1="1600.9" y1="1878.8" x2="1612" y2="1878.8" stroke="#1a1a1a" stroke-width="2"/>
<text x="1591.5" y="1890.3" font-size="33" text-anchor="end" fill="#1a1a1a">1.0</text>
<line x1="1600.9" y1="1940.3" x2="1612" y2="1940.3" stroke="#1a1a1a" stroke-width="2"/>
<text x="1591.5" y="1951.8" font-size="33" text-anchor="end" fill="#1a1a1a">0.5</text>
<line x1="1600.9" y1="2002.2" x2="1612" y2="2002.2" stroke="#1a1a1a" stroke-width="2"/>
<text x="1591.5" y="2013.7" font-size="33" text-anchor="end" fill="#1a1a1a">0.0</text>
<line x1="1670.5" y1="2002.2" x2="1670.5" y2="2015.7" stroke="#1a1a1a" stroke-width="2"/>
<line x1="1799.7" y1="2002.2" x2="1799.7" y2="2015.7" stroke="#1a1a1a" stroke-width="2"/>
<path d="M1627.1,2002.2 V1878.2 H1660.3 V2002.2" fill="none" stroke="#4a68b0" stroke-width="1.4"/>
<path d="M1687.9,2002.2 V1879 H1721 V2002.2" fill="none" stroke="#de463f" stroke-width="1.4"/>
<path d="M1758.9,2002.2 V1900.3 H1792 V2002.2" fill="none" stroke="#4a68b0" stroke-width="1.4"/>
<path d="M1814.9,2002.2 V1790.7 H1848.1 V2002.2" fill="none" stroke="#de463f" stroke-width="1.6"/>
<line x1="1812" y1="1790.7" x2="1851.5" y2="1790.7" stroke="#de463f" stroke-width="2"/>
<line x1="1774.9" y1="1881" x2="1774.9" y2="1910" stroke="#1a1a1a" stroke-width="1.8"/>
<line x1="1767.9" y1="1881" x2="1781.9" y2="1881" stroke="#1a1a1a" stroke-width="1.8"/>
<line x1="1767.9" y1="1910" x2="1781.9" y2="1910" stroke="#1a1a1a" stroke-width="1.8"/>
<line x1="1830.7" y1="1758" x2="1830.7" y2="1815" stroke="#1a1a1a" stroke-width="1.8"/>
<line x1="1823.7" y1="1758" x2="1837.7" y2="1758" stroke="#1a1a1a" stroke-width="1.8"/>
<line x1="1823.7" y1="1815" x2="1837.7" y2="1815" stroke="#1a1a1a" stroke-width="1.8"/>
<circle cx="1633.2" cy="1879.6" r="8.9" fill="#3f5bab" stroke="#111" stroke-width="1.8"/>
<circle cx="1647" cy="1879" r="8.9" fill="#3f5bab" stroke="#111" stroke-width="1.8"/>
<circle cx="1640.1" cy="1868" r="8.9" fill="#3f5bab" stroke="#111" stroke-width="1.8"/>
<circle cx="1654.7" cy="1874.6" r="8.9" fill="#3f5bab" stroke="#111" stroke-width="1.8"/>
<circle cx="1694.2" cy="1879.6" r="8.9" fill="#ee2e24" stroke="#111" stroke-width="1.8"/>
<circle cx="1707.2" cy="1878.2" r="8.9" fill="#ee2e24" stroke="#111" stroke-width="1.8"/>
<circle cx="1701.1" cy="1871.9" r="8.9" fill="#ee2e24" stroke="#111" stroke-width="1.8"/>
<circle cx="1714.1" cy="1876.8" r="8.9" fill="#ee2e24" stroke="#111" stroke-width="1.8"/>
<circle cx="1774.9" cy="1876.3" r="8.9" fill="#3f5bab" stroke="#111" stroke-width="1.8"/>
<circle cx="1765.2" cy="1894.2" r="8.9" fill="#3f5bab" stroke="#111" stroke-width="1.8"/>
<circle cx="1785.1" cy="1898.9" r="8.9" fill="#3f5bab" stroke="#111" stroke-width="1.8"/>
<circle cx="1765.2" cy="1910" r="8.9" fill="#3f5bab" stroke="#111" stroke-width="1.8"/>
<circle cx="1830.7" cy="1753.1" r="8.9" fill="#ee2e24" stroke="#111" stroke-width="1.8"/>
<circle cx="1830.7" cy="1777.4" r="8.9" fill="#ee2e24" stroke="#111" stroke-width="1.8"/>
<circle cx="1840.3" cy="1800.3" r="8.9" fill="#ee2e24" stroke="#111" stroke-width="1.8"/>
<circle cx="1821" cy="1811.4" r="8.9" fill="#ee2e24" stroke="#111" stroke-width="1.8"/>
<text x="1675" y="1707.8" font-size="18.5" text-anchor="middle" fill="#333">0.6623</text>
<line x1="1647" y1="1715.8" x2="1698.4" y2="1715.8" stroke="#1a1a1a" stroke-width="1.8"/>
<text x="1810" y="1707.8" font-size="18.5" text-anchor="middle" fill="#333">0.0003</text>
<line x1="1782.6" y1="1715.8" x2="1839" y2="1715.8" stroke="#1a1a1a" stroke-width="1.8"/>
<text x="1539" y="1859" font-size="33" text-anchor="middle" transform="rotate(-90 1539 1859)" fill="#1a1a1a">Nalm6  CD28: Nalm6</text>
<text x="1667" y="2055" font-size="33" text-anchor="middle" fill="#1a1a1a">IL-2</text>
<text x="1804.5" y="2055" font-size="33" text-anchor="middle" fill="#1a1a1a">IL-13</text>
<rect x="1928" y="1834.2" width="30" height="15" fill="#3f5bab" stroke="none" stroke-width="0"/>
<text x="1973" y="1854.3" font-size="31.5" fill="#1a1a1a">19-HIT</text>
<rect x="1927.7" y="1870.8" width="29.7" height="14.8" fill="#ee2e24" stroke="none" stroke-width="0"/>
<text x="1973" y="1890" font-size="31.5" fill="#1a1a1a">19-HIT<tspan dy="-10.6" font-size="18.3">80BB</tspan></text>
</svg>
</body></html>
